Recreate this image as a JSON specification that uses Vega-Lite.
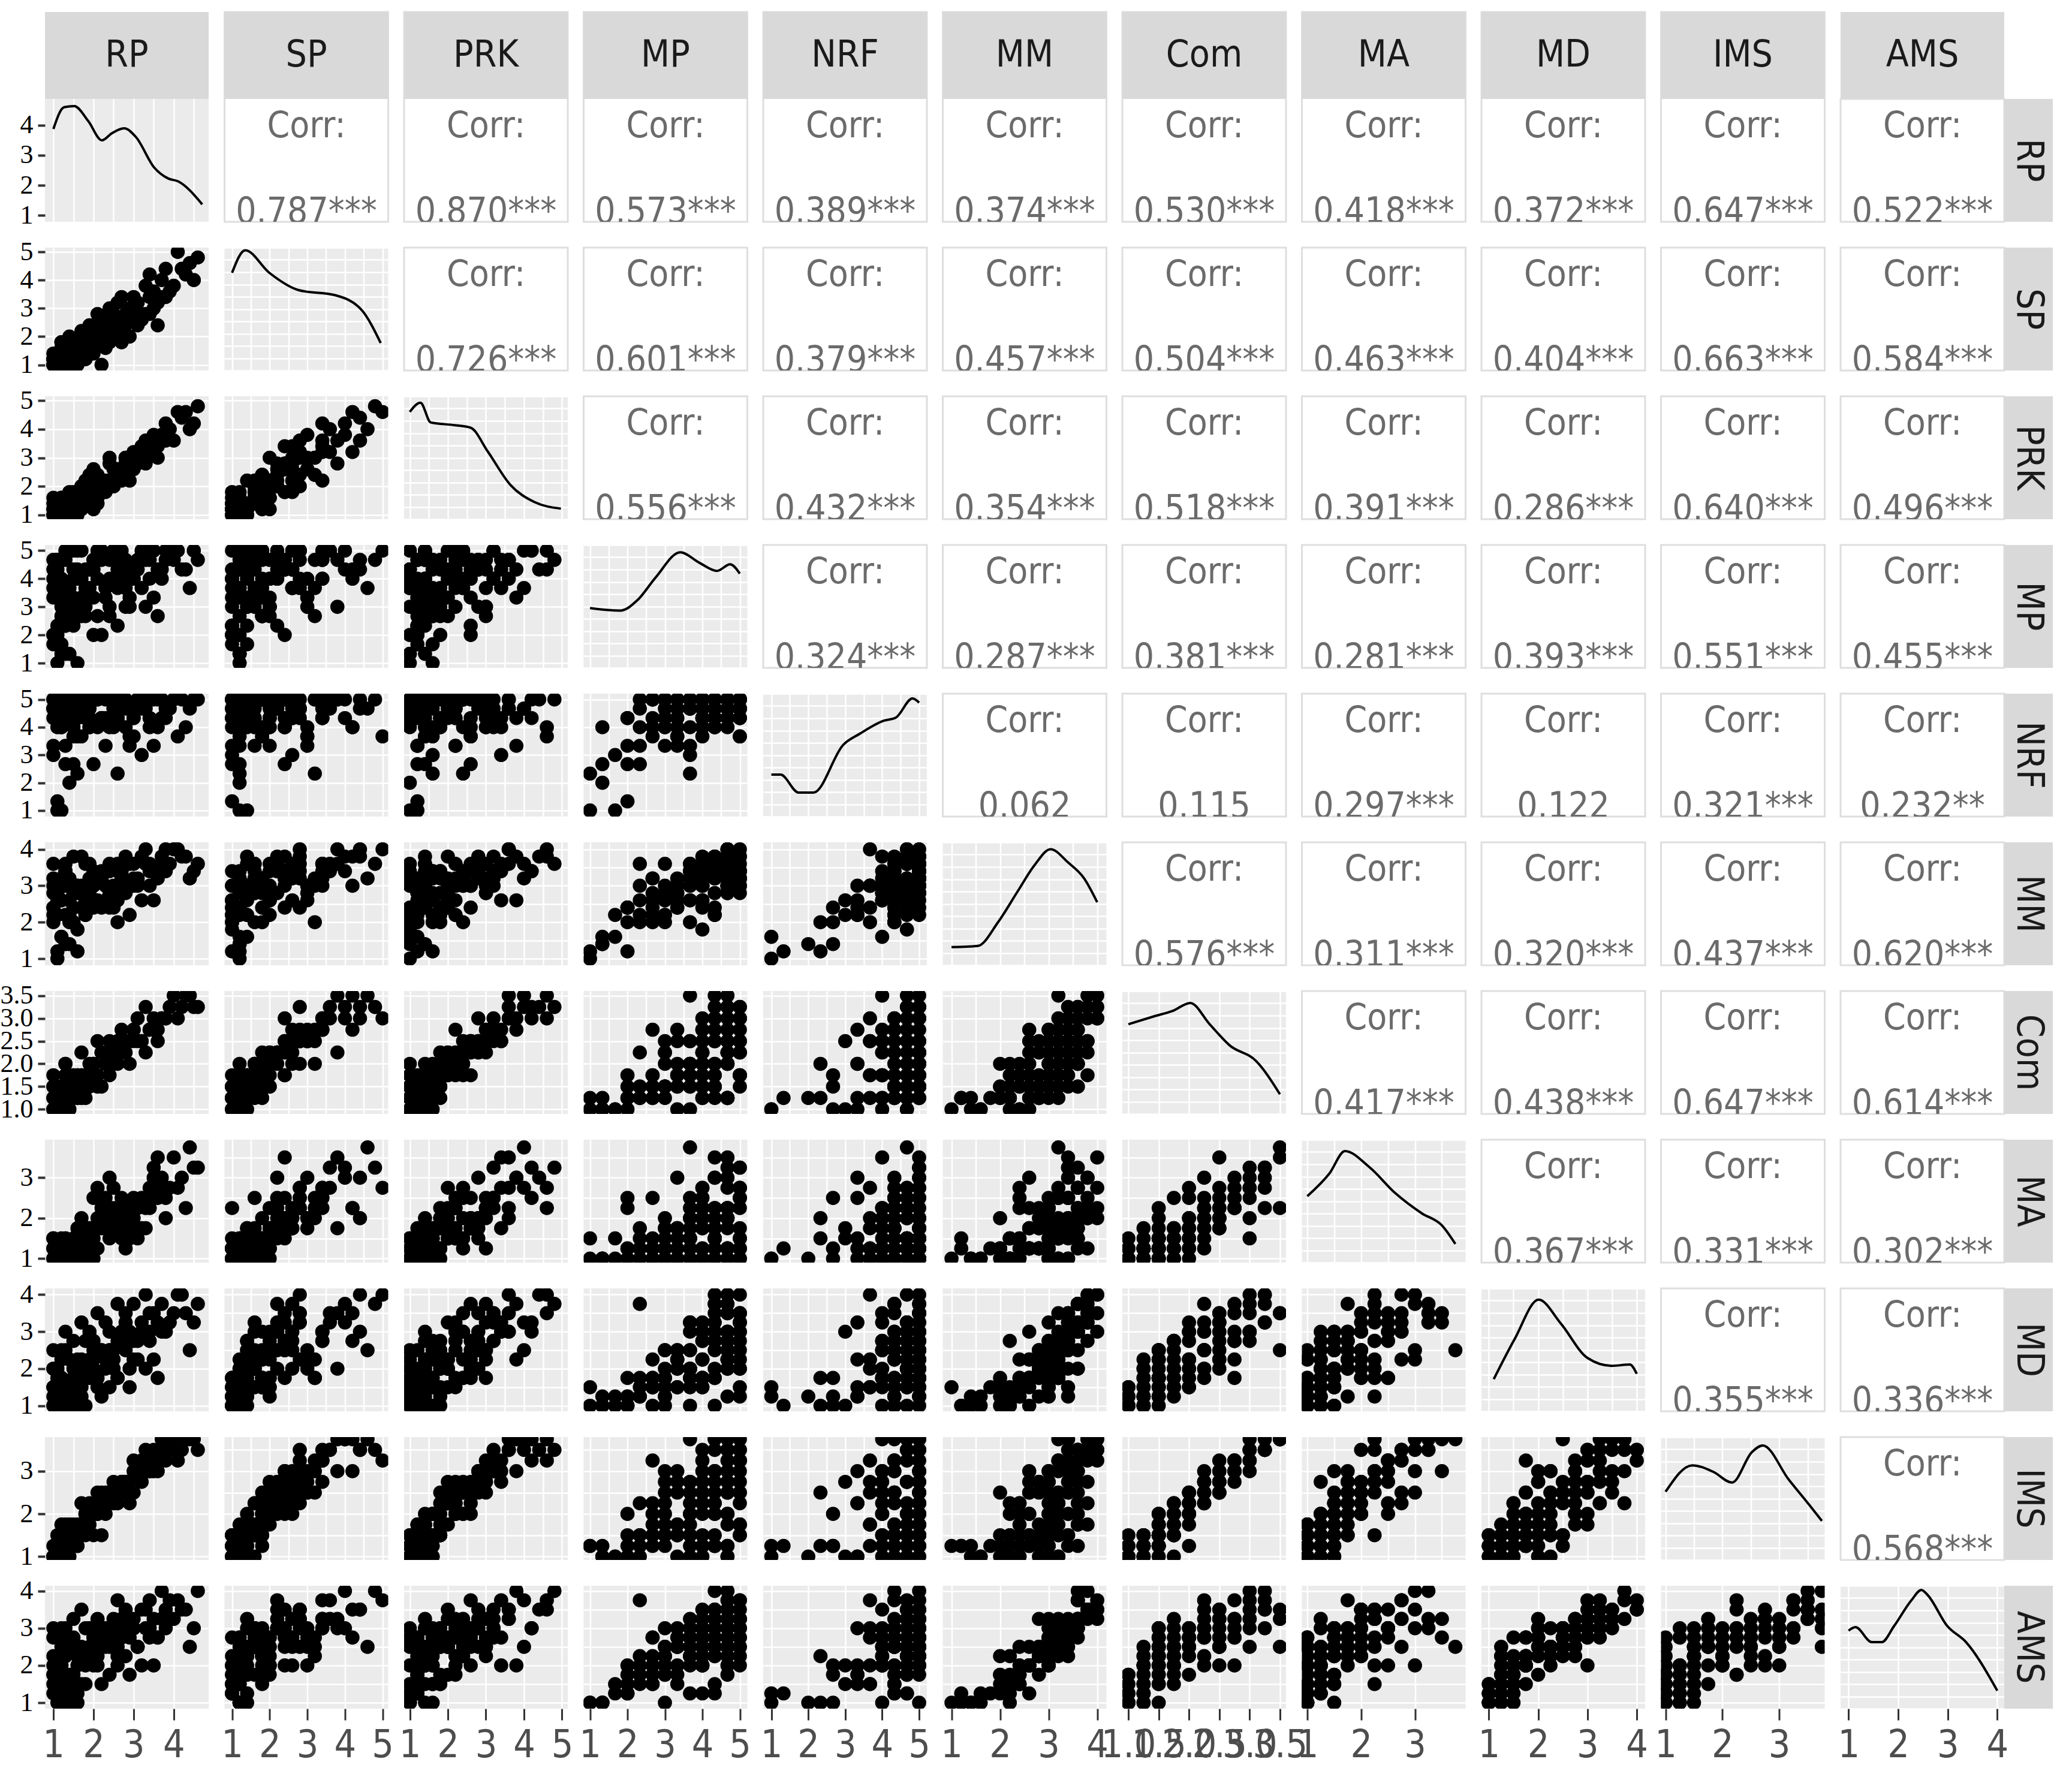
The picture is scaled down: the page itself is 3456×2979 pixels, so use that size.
{
"$schema":"https://vega.github.io/schema/vega-lite/v6.json",
"background":"white",
"padding":{"left":0,"top":18,"right":5,"bottom":5},
"config":{
"view":{"fill":"#EBEBEB","stroke":null},
"axis":{"domain":false,"labels":false,"ticks":false,"grid":true,"gridColor":"#FFFFFF","gridWidth":2.5,"gridOpacity":1,"labelOverlap":false,"labelFlush":false},
"axisLeft":{"labelFont":"Liberation Serif","labelFontSize":44,"labelColor":"#000000","tickColor":"#333333","tickWidth":4,"tickSize":12,"labelPadding":8},
"axisBottom":{"labelFont":"Liberation Sans Narrow, DejaVu Sans Condensed, sans-serif","labelFontSize":64,"labelColor":"#4D4D4D","tickColor":"#333333","tickWidth":3,"tickSize":19,"labelPadding":10},
"point":{"filled":true,"size":560,"color":"#000000","opacity":1},
"line":{"color":"#000000","strokeWidth":4,"interpolate":"monotone"},
"rect":{"color":"#D9D9D9"},
"text":{"color":"#6B6B6B"},
"style":{
"strip":{"font":"Liberation Sans Narrow, DejaVu Sans Condensed, sans-serif","fontSize":62},
"rstrip":{"font":"Liberation Sans Narrow, DejaVu Sans Condensed, sans-serif","fontSize":62,"angle":90},
"corrlab":{"font":"Liberation Sans Narrow, DejaVu Sans Condensed, sans-serif","fontSize":60,"baseline":"middle"},
"corrnum":{"font":"Liberation Sans Narrow, DejaVu Sans Condensed, sans-serif","fontSize":60,"baseline":"alphabetic"}
}
},
"datasets":{
"obs":[
{"RP":1.0,"SP":1.0,"PRK":1.0,"MP":2.0,"NRF":4.33,"MM":2.0,"Com":1.25,"MA":1.0,"MD":1.0,"IMS":1.0,"AMS":1.25},
{"RP":1.1,"SP":1.2,"PRK":1.0,"MP":1.0,"NRF":1.0,"MM":1.0,"Com":1.0,"MA":1.0,"MD":1.5,"IMS":1.25,"AMS":1.0},
{"RP":1.2,"SP":1.0,"PRK":1.4,"MP":3.0,"NRF":5.0,"MM":2.6,"Com":1.5,"MA":1.25,"MD":1.75,"IMS":1.25,"AMS":2.0},
{"RP":1.3,"SP":1.4,"PRK":1.2,"MP":2.33,"NRF":4.67,"MM":3.0,"Com":1.5,"MA":1.5,"MD":1.5,"IMS":1.5,"AMS":2.25},
{"RP":1.4,"SP":1.2,"PRK":1.0,"MP":1.33,"NRF":2.0,"MM":1.4,"Com":1.25,"MA":1.0,"MD":1.25,"IMS":1.0,"AMS":1.0},
{"RP":1.5,"SP":1.6,"PRK":1.8,"MP":3.33,"NRF":4.0,"MM":2.8,"Com":1.75,"MA":1.25,"MD":2.0,"IMS":1.5,"AMS":2.5},
{"RP":1.2,"SP":1.8,"PRK":1.2,"MP":2.67,"NRF":5.0,"MM":3.2,"Com":1.5,"MA":1.0,"MD":1.75,"IMS":1.75,"AMS":2.75},
{"RP":1.0,"SP":1.0,"PRK":1.6,"MP":1.67,"NRF":3.0,"MM":2.2,"Com":1.0,"MA":1.5,"MD":1.0,"IMS":1.0,"AMS":1.5},
{"RP":1.6,"SP":1.4,"PRK":1.4,"MP":4.0,"NRF":4.33,"MM":3.0,"Com":1.75,"MA":1.75,"MD":2.25,"IMS":1.5,"AMS":2.5},
{"RP":1.3,"SP":1.2,"PRK":1.0,"MP":3.67,"NRF":5.0,"MM":3.4,"Com":2.0,"MA":1.0,"MD":1.5,"IMS":1.25,"AMS":2.75},
{"RP":1.8,"SP":2.0,"PRK":1.6,"MP":3.0,"NRF":4.67,"MM":2.6,"Com":1.5,"MA":1.25,"MD":1.75,"IMS":2.0,"AMS":2.0},
{"RP":1.1,"SP":1.0,"PRK":1.2,"MP":2.0,"NRF":1.33,"MM":1.2,"Com":1.25,"MA":1.25,"MD":1.0,"IMS":1.25,"AMS":1.25},
{"RP":2.0,"SP":1.6,"PRK":2.0,"MP":4.33,"NRF":5.0,"MM":3.2,"Com":2.0,"MA":1.5,"MD":2.0,"IMS":2.25,"AMS":2.75},
{"RP":1.7,"SP":1.2,"PRK":1.4,"MP":3.33,"NRF":3.67,"MM":2.4,"Com":1.75,"MA":1.0,"MD":1.5,"IMS":1.75,"AMS":1.5},
{"RP":2.2,"SP":2.4,"PRK":1.8,"MP":4.67,"NRF":4.33,"MM":3.4,"Com":2.25,"MA":2.0,"MD":2.5,"IMS":2.5,"AMS":3.0},
{"RP":1.5,"SP":1.0,"PRK":1.2,"MP":2.33,"NRF":2.67,"MM":2.0,"Com":1.5,"MA":1.25,"MD":1.25,"IMS":1.25,"AMS":1.75},
{"RP":2.4,"SP":2.0,"PRK":2.2,"MP":4.0,"NRF":5.0,"MM":3.6,"Com":2.0,"MA":1.75,"MD":3.0,"IMS":2.5,"AMS":2.75},
{"RP":1.9,"SP":1.8,"PRK":2.4,"MP":3.67,"NRF":4.0,"MM":3.0,"Com":1.75,"MA":1.5,"MD":1.75,"IMS":2.0,"AMS":2.25},
{"RP":2.5,"SP":2.2,"PRK":2.0,"MP":5.0,"NRF":4.67,"MM":2.8,"Com":2.25,"MA":2.25,"MD":2.0,"IMS":2.75,"AMS":3.25},
{"RP":1.4,"SP":1.4,"PRK":1.0,"MP":3.0,"NRF":5.0,"MM":2.2,"Com":1.5,"MA":1.0,"MD":1.0,"IMS":1.5,"AMS":1.0},
{"RP":2.6,"SP":2.6,"PRK":2.6,"MP":4.33,"NRF":4.33,"MM":3.4,"Com":2.5,"MA":1.75,"MD":2.75,"IMS":2.5,"AMS":2.5},
{"RP":2.3,"SP":1.6,"PRK":2.2,"MP":3.67,"NRF":3.33,"MM":3.0,"Com":2.0,"MA":2.5,"MD":3.25,"IMS":2.25,"AMS":3.0},
{"RP":2.8,"SP":2.4,"PRK":2.8,"MP":4.67,"NRF":5.0,"MM":3.8,"Com":2.5,"MA":2.0,"MD":3.5,"IMS":2.75,"AMS":3.5},
{"RP":2.1,"SP":2.0,"PRK":1.6,"MP":2.67,"NRF":4.0,"MM":2.6,"Com":1.75,"MA":1.25,"MD":1.5,"IMS":2.0,"AMS":2.0},
{"RP":2.7,"SP":1.8,"PRK":2.4,"MP":5.0,"NRF":5.0,"MM":3.2,"Com":2.25,"MA":1.5,"MD":3.0,"IMS":2.5,"AMS":2.75},
{"RP":2.5,"SP":2.8,"PRK":2.0,"MP":4.0,"NRF":4.67,"MM":2.4,"Com":2.0,"MA":2.75,"MD":2.25,"IMS":2.25,"AMS":2.5},
{"RP":3.0,"SP":2.6,"PRK":3.0,"MP":4.33,"NRF":4.33,"MM":3.6,"Com":2.75,"MA":2.25,"MD":3.75,"IMS":3.0,"AMS":3.25},
{"RP":2.9,"SP":3.0,"PRK":2.6,"MP":3.33,"NRF":3.67,"MM":3.0,"Com":2.5,"MA":1.75,"MD":2.0,"IMS":2.75,"AMS":2.75},
{"RP":2.4,"SP":2.2,"PRK":2.8,"MP":4.67,"NRF":5.0,"MM":3.4,"Com":2.25,"MA":3.0,"MD":2.5,"IMS":2.5,"AMS":3.0},
{"RP":3.2,"SP":2.8,"PRK":3.2,"MP":5.0,"NRF":4.67,"MM":3.8,"Com":2.5,"MA":2.5,"MD":3.25,"IMS":3.25,"AMS":3.5},
{"RP":2.6,"SP":3.2,"PRK":2.4,"MP":3.67,"NRF":2.33,"MM":2.0,"Com":2.0,"MA":2.0,"MD":1.75,"IMS":2.5,"AMS":2.25},
{"RP":3.1,"SP":2.4,"PRK":2.8,"MP":4.33,"NRF":5.0,"MM":3.2,"Com":3.0,"MA":1.5,"MD":2.75,"IMS":3.0,"AMS":2.5},
{"RP":3.4,"SP":3.4,"PRK":3.4,"MP":4.67,"NRF":4.33,"MM":3.6,"Com":2.75,"MA":2.75,"MD":3.0,"IMS":3.25,"AMS":3.75},
{"RP":2.8,"SP":2.0,"PRK":3.0,"MP":3.0,"NRF":4.0,"MM":2.8,"Com":2.25,"MA":1.25,"MD":2.5,"IMS":2.75,"AMS":2.25},
{"RP":3.5,"SP":3.6,"PRK":3.2,"MP":5.0,"NRF":5.0,"MM":3.4,"Com":3.0,"MA":3.25,"MD":3.5,"IMS":3.5,"AMS":3.25},
{"RP":3.0,"SP":3.0,"PRK":2.6,"MP":4.0,"NRF":3.67,"MM":3.0,"Com":2.5,"MA":2.0,"MD":2.25,"IMS":2.5,"AMS":3.0},
{"RP":3.3,"SP":2.8,"PRK":3.6,"MP":4.67,"NRF":4.67,"MM":4.0,"Com":3.25,"MA":2.25,"MD":4.0,"IMS":3.5,"AMS":3.5},
{"RP":3.6,"SP":3.2,"PRK":3.0,"MP":2.67,"NRF":5.0,"MM":3.2,"Com":2.75,"MA":2.5,"MD":1.75,"IMS":3.25,"AMS":2.75},
{"RP":3.7,"SP":4.0,"PRK":3.8,"MP":4.33,"NRF":4.33,"MM":3.8,"Com":3.0,"MA":3.0,"MD":3.75,"IMS":3.75,"AMS":4.0},
{"RP":3.2,"SP":2.6,"PRK":3.4,"MP":3.67,"NRF":3.0,"MM":2.6,"Com":2.5,"MA":1.75,"MD":3.0,"IMS":2.75,"AMS":2.0},
{"RP":3.9,"SP":3.6,"PRK":4.0,"MP":5.0,"NRF":4.67,"MM":3.6,"Com":3.25,"MA":2.75,"MD":3.25,"IMS":3.5,"AMS":3.75},
{"RP":4.0,"SP":3.8,"PRK":3.6,"MP":4.67,"NRF":5.0,"MM":4.0,"Com":3.5,"MA":3.5,"MD":3.5,"IMS":3.75,"AMS":3.25},
{"RP":3.4,"SP":4.2,"PRK":3.2,"MP":4.0,"NRF":4.0,"MM":3.0,"Com":2.75,"MA":2.25,"MD":2.75,"IMS":3.0,"AMS":2.75},
{"RP":4.2,"SP":4.4,"PRK":4.4,"MP":4.33,"NRF":5.0,"MM":3.8,"Com":3.25,"MA":3.0,"MD":4.0,"IMS":3.5,"AMS":3.5},
{"RP":3.8,"SP":3.4,"PRK":4.2,"MP":5.0,"NRF":4.33,"MM":3.4,"Com":3.0,"MA":2.5,"MD":3.0,"IMS":3.25,"AMS":3.0},
{"RP":4.4,"SP":4.6,"PRK":4.0,"MP":3.67,"NRF":4.67,"MM":3.2,"Com":3.5,"MA":3.75,"MD":2.5,"IMS":3.75,"AMS":2.5},
{"RP":4.6,"SP":4.8,"PRK":4.8,"MP":4.67,"NRF":5.0,"MM":3.6,"Com":3.25,"MA":3.25,"MD":3.75,"IMS":3.5,"AMS":4.0},
{"RP":4.1,"SP":5.0,"PRK":4.6,"MP":5.0,"NRF":3.67,"MM":4.0,"Com":3.0,"MA":2.75,"MD":4.0,"IMS":3.25,"AMS":3.75},
{"RP":1.6,"SP":1.2,"PRK":1.6,"MP":1.0,"NRF":2.33,"MM":1.2,"Com":1.25,"MA":1.5,"MD":1.0,"IMS":1.25,"AMS":1.0},
{"RP":2.0,"SP":1.4,"PRK":1.2,"MP":3.33,"NRF":5.0,"MM":3.0,"Com":1.75,"MA":1.0,"MD":2.5,"IMS":1.5,"AMS":2.5},
{"RP":1.3,"SP":1.6,"PRK":1.4,"MP":4.67,"NRF":5.0,"MM":3.6,"Com":2.0,"MA":1.25,"MD":3.0,"IMS":1.75,"AMS":3.0},
{"RP":2.2,"SP":1.0,"PRK":1.8,"MP":2.0,"NRF":4.33,"MM":2.4,"Com":1.5,"MA":2.25,"MD":1.25,"IMS":1.5,"AMS":1.5},
{"RP":1.0,"SP":1.2,"PRK":1.0,"MP":3.67,"NRF":4.67,"MM":3.2,"Com":1.75,"MA":1.5,"MD":2.0,"IMS":1.0,"AMS":2.75},
{"RP":2.9,"SP":2.0,"PRK":2.2,"MP":3.0,"NRF":3.33,"MM":2.2,"Com":2.0,"MA":1.5,"MD":1.5,"IMS":2.25,"AMS":1.75},
{"RP":1.7,"SP":2.2,"PRK":2.0,"MP":4.0,"NRF":5.0,"MM":3.8,"Com":2.25,"MA":2.0,"MD":3.25,"IMS":2.25,"AMS":3.5},
{"RP":3.6,"SP":2.4,"PRK":3.4,"MP":4.33,"NRF":4.0,"MM":3.4,"Com":2.5,"MA":3.5,"MD":3.25,"IMS":3.0,"AMS":2.75},
{"RP":1.2,"SP":1.4,"PRK":1.2,"MP":1.67,"NRF":1.0,"MM":1.6,"Com":1.0,"MA":1.0,"MD":1.25,"IMS":1.0,"AMS":1.25},
{"RP":2.7,"SP":3.4,"PRK":2.2,"MP":4.67,"NRF":4.67,"MM":3.0,"Com":2.75,"MA":2.25,"MD":2.75,"IMS":2.75,"AMS":3.25},
{"RP":1.9,"SP":1.6,"PRK":1.8,"MP":3.33,"NRF":4.33,"MM":2.8,"Com":1.5,"MA":1.75,"MD":2.25,"IMS":1.75,"AMS":2.5},
{"RP":3.3,"SP":3.8,"PRK":2.8,"MP":3.0,"NRF":5.0,"MM":3.6,"Com":2.25,"MA":1.75,"MD":2.0,"IMS":3.0,"AMS":3.0},
{"RP":1.5,"SP":1.8,"PRK":1.6,"MP":2.67,"NRF":3.67,"MM":2.0,"Com":1.25,"MA":1.25,"MD":1.5,"IMS":1.25,"AMS":1.5},
{"RP":2.1,"SP":2.8,"PRK":2.4,"MP":5.0,"NRF":5.0,"MM":3.2,"Com":2.5,"MA":2.75,"MD":3.5,"IMS":2.5,"AMS":3.25},
{"RP":4.3,"SP":4.2,"PRK":4.6,"MP":4.33,"NRF":4.0,"MM":3.8,"Com":3.5,"MA":2.25,"MD":3.5,"IMS":3.75,"AMS":3.5},
{"RP":1.1,"SP":1.0,"PRK":1.4,"MP":2.33,"NRF":4.0,"MM":2.6,"Com":1.25,"MA":1.25,"MD":1.75,"IMS":1.5,"AMS":2.0},
{"RP":2.3,"SP":2.6,"PRK":1.8,"MP":3.67,"NRF":5.0,"MM":3.4,"Com":2.0,"MA":2.0,"MD":2.0,"IMS":2.0,"AMS":2.75},
{"RP":1.8,"SP":1.4,"PRK":2.2,"MP":4.33,"NRF":4.67,"MM":2.2,"Com":1.75,"MA":1.5,"MD":2.75,"IMS":2.0,"AMS":2.25},
{"RP":3.5,"SP":3.0,"PRK":3.8,"MP":3.33,"NRF":3.33,"MM":2.6,"Com":2.75,"MA":3.0,"MD":2.25,"IMS":3.0,"AMS":2.0},
{"RP":1.4,"SP":2.0,"PRK":1.2,"MP":3.0,"NRF":4.33,"MM":3.0,"Com":1.5,"MA":1.0,"MD":1.25,"IMS":1.75,"AMS":2.5},
{"RP":2.6,"SP":2.2,"PRK":2.6,"MP":2.33,"NRF":5.0,"MM":3.6,"Com":2.25,"MA":1.75,"MD":3.75,"IMS":2.25,"AMS":3.75},
{"RP":1.6,"SP":1.0,"PRK":1.0,"MP":4.0,"NRF":4.67,"MM":1.8,"Com":1.25,"MA":1.25,"MD":1.5,"IMS":1.25,"AMS":1.25},
{"RP":3.8,"SP":4.4,"PRK":3.6,"MP":4.67,"NRF":4.67,"MM":4.0,"Com":3.0,"MA":2.0,"MD":3.0,"IMS":3.5,"AMS":3.5},
{"RP":2.0,"SP":2.4,"PRK":2.6,"MP":2.0,"NRF":2.67,"MM":2.4,"Com":1.75,"MA":2.5,"MD":1.75,"IMS":2.0,"AMS":2.0},
{"RP":1.2,"SP":1.8,"PRK":1.6,"MP":3.33,"NRF":5.0,"MM":3.2,"Com":1.5,"MA":1.5,"MD":2.5,"IMS":1.5,"AMS":3.0},
{"RP":4.5,"SP":4.0,"PRK":4.2,"MP":5.0,"NRF":5.0,"MM":3.4,"Com":3.25,"MA":3.25,"MD":3.25,"IMS":3.75,"AMS":3.0},
{"RP":2.4,"SP":3.0,"PRK":3.0,"MP":3.0,"NRF":4.0,"MM":2.8,"Com":2.5,"MA":2.0,"MD":2.5,"IMS":2.5,"AMS":2.5},
{"RP":1.3,"SP":1.2,"PRK":1.4,"MP":1.33,"NRF":2.67,"MM":1.4,"Com":1.0,"MA":1.0,"MD":1.0,"IMS":1.25,"AMS":1.0},
{"RP":3.0,"SP":3.4,"PRK":3.2,"MP":4.0,"NRF":4.33,"MM":3.2,"Com":2.75,"MA":2.5,"MD":2.75,"IMS":3.25,"AMS":3.0},
{"RP":1.7,"SP":1.8,"PRK":1.4,"MP":2.67,"NRF":5.0,"MM":2.8,"Com":1.5,"MA":1.25,"MD":2.25,"IMS":1.5,"AMS":2.25},
{"RP":2.8,"SP":2.8,"PRK":3.0,"MP":3.67,"NRF":4.67,"MM":3.6,"Com":2.5,"MA":2.25,"MD":3.25,"IMS":2.75,"AMS":3.25},
{"RP":1.0,"SP":1.2,"PRK":1.2,"MP":2.0,"NRF":3.33,"MM":2.4,"Com":1.0,"MA":1.25,"MD":1.25,"IMS":1.0,"AMS":1.75},
{"RP":1.0,"SP":1.0,"PRK":1.0,"MP":4.0,"NRF":5.0,"MM":3.0,"Com":1.5,"MA":1.0,"MD":1.5,"IMS":1.0,"AMS":2.0},
{"RP":1.1,"SP":1.4,"PRK":1.2,"MP":4.67,"NRF":4.67,"MM":2.8,"Com":1.25,"MA":1.25,"MD":2.0,"IMS":1.25,"AMS":1.75},
{"RP":1.3,"SP":1.0,"PRK":1.4,"MP":5.0,"NRF":5.0,"MM":3.4,"Com":1.75,"MA":1.0,"MD":1.25,"IMS":1.5,"AMS":2.25},
{"RP":1.5,"SP":1.2,"PRK":1.0,"MP":4.33,"NRF":4.33,"MM":2.4,"Com":1.5,"MA":1.5,"MD":1.75,"IMS":1.25,"AMS":1.5},
{"RP":1.2,"SP":1.6,"PRK":1.6,"MP":4.67,"NRF":5.0,"MM":3.2,"Com":1.25,"MA":1.0,"MD":2.25,"IMS":1.0,"AMS":2.5},
{"RP":1.4,"SP":1.0,"PRK":1.2,"MP":3.67,"NRF":4.67,"MM":2.6,"Com":1.0,"MA":1.25,"MD":1.0,"IMS":1.5,"AMS":1.25},
{"RP":1.6,"SP":1.8,"PRK":1.4,"MP":5.0,"NRF":3.67,"MM":3.0,"Com":1.75,"MA":1.25,"MD":1.5,"IMS":1.75,"AMS":2.0},
{"RP":1.0,"SP":1.4,"PRK":1.0,"MP":4.33,"NRF":5.0,"MM":3.6,"Com":1.5,"MA":1.5,"MD":2.5,"IMS":1.25,"AMS":3.0},
{"RP":1.8,"SP":1.2,"PRK":1.8,"MP":2.67,"NRF":4.33,"MM":2.2,"Com":1.25,"MA":1.0,"MD":1.0,"IMS":1.5,"AMS":1.5},
{"RP":2.0,"SP":2.0,"PRK":1.6,"MP":4.67,"NRF":5.0,"MM":3.4,"Com":2.0,"MA":1.75,"MD":2.75,"IMS":2.0,"AMS":2.75},
{"RP":1.2,"SP":1.2,"PRK":1.0,"MP":1.33,"NRF":4.0,"MM":1.6,"Com":1.0,"MA":1.0,"MD":1.0,"IMS":1.0,"AMS":1.0},
{"RP":1.7,"SP":1.6,"PRK":2.0,"MP":5.0,"NRF":4.67,"MM":3.0,"Com":1.75,"MA":1.5,"MD":2.0,"IMS":1.75,"AMS":2.5},
{"RP":2.1,"SP":1.8,"PRK":1.4,"MP":4.0,"NRF":5.0,"MM":3.2,"Com":1.5,"MA":2.0,"MD":1.75,"IMS":2.0,"AMS":2.25},
{"RP":1.4,"SP":1.6,"PRK":1.8,"MP":3.0,"NRF":4.33,"MM":2.0,"Com":1.5,"MA":1.25,"MD":1.5,"IMS":1.5,"AMS":1.75},
{"RP":1.9,"SP":2.2,"PRK":2.2,"MP":4.33,"NRF":4.67,"MM":3.6,"Com":2.0,"MA":1.5,"MD":3.0,"IMS":2.0,"AMS":3.0},
{"RP":1.1,"SP":1.2,"PRK":1.2,"MP":4.67,"NRF":5.0,"MM":3.0,"Com":1.25,"MA":1.0,"MD":1.25,"IMS":1.25,"AMS":2.0},
{"RP":2.3,"SP":2.0,"PRK":2.0,"MP":3.33,"NRF":4.33,"MM":2.6,"Com":2.0,"MA":1.75,"MD":2.25,"IMS":2.5,"AMS":2.5},
{"RP":1.5,"SP":1.4,"PRK":1.4,"MP":5.0,"NRF":5.0,"MM":3.8,"Com":1.75,"MA":1.25,"MD":2.75,"IMS":1.75,"AMS":3.25},
{"RP":2.5,"SP":2.4,"PRK":2.6,"MP":4.67,"NRF":4.0,"MM":3.0,"Com":2.25,"MA":2.0,"MD":2.5,"IMS":2.5,"AMS":2.75},
{"RP":1.3,"SP":1.0,"PRK":1.2,"MP":2.33,"NRF":3.33,"MM":2.2,"Com":1.25,"MA":1.0,"MD":1.25,"IMS":1.0,"AMS":1.5},
{"RP":2.7,"SP":2.2,"PRK":2.4,"MP":4.0,"NRF":5.0,"MM":3.4,"Com":2.25,"MA":2.5,"MD":3.0,"IMS":2.75,"AMS":3.0},
{"RP":1.6,"SP":1.2,"PRK":1.6,"MP":4.33,"NRF":5.0,"MM":2.8,"Com":1.5,"MA":1.25,"MD":1.75,"IMS":1.5,"AMS":2.25},
{"RP":1.0,"SP":1.0,"PRK":1.2,"MP":3.33,"NRF":4.67,"MM":2.4,"Com":1.0,"MA":1.0,"MD":1.5,"IMS":1.0,"AMS":1.75},
{"RP":2.2,"SP":2.6,"PRK":2.2,"MP":5.0,"NRF":4.33,"MM":3.2,"Com":2.25,"MA":1.75,"MD":2.5,"IMS":2.25,"AMS":2.75},
{"RP":1.8,"SP":1.6,"PRK":1.4,"MP":3.67,"NRF":5.0,"MM":3.6,"Com":1.5,"MA":1.5,"MD":2.0,"IMS":1.75,"AMS":3.0},
{"RP":3.1,"SP":3.2,"PRK":3.0,"MP":4.67,"NRF":5.0,"MM":3.0,"Com":2.5,"MA":2.25,"MD":2.25,"IMS":3.0,"AMS":2.5},
{"RP":1.2,"SP":1.4,"PRK":1.4,"MP":4.0,"NRF":4.0,"MM":2.6,"Com":1.25,"MA":1.25,"MD":1.75,"IMS":1.25,"AMS":2.0},
{"RP":2.4,"SP":1.8,"PRK":2.0,"MP":2.67,"NRF":5.0,"MM":2.4,"Com":1.75,"MA":1.5,"MD":1.5,"IMS":2.25,"AMS":1.75},
{"RP":1.4,"SP":1.2,"PRK":1.0,"MP":5.0,"NRF":4.67,"MM":3.2,"Com":1.5,"MA":1.0,"MD":2.25,"IMS":1.5,"AMS":2.5},
{"RP":2.9,"SP":2.6,"PRK":2.8,"MP":4.33,"NRF":4.67,"MM":3.6,"Com":2.5,"MA":2.0,"MD":3.0,"IMS":2.75,"AMS":3.25},
{"RP":1.7,"SP":1.4,"PRK":1.2,"MP":3.0,"NRF":5.0,"MM":2.8,"Com":1.25,"MA":1.75,"MD":1.25,"IMS":1.5,"AMS":2.25},
{"RP":1.1,"SP":1.0,"PRK":1.0,"MP":4.33,"NRF":4.33,"MM":2.2,"Com":1.25,"MA":1.0,"MD":1.0,"IMS":1.25,"AMS":1.25},
{"RP":3.4,"SP":2.8,"PRK":3.2,"MP":5.0,"NRF":4.33,"MM":3.4,"Com":2.75,"MA":2.5,"MD":3.5,"IMS":3.0,"AMS":3.0},
{"RP":2.0,"SP":1.8,"PRK":2.4,"MP":4.67,"NRF":5.0,"MM":3.0,"Com":2.0,"MA":1.25,"MD":2.25,"IMS":2.0,"AMS":2.5},
{"RP":1.3,"SP":1.6,"PRK":1.6,"MP":3.67,"NRF":5.0,"MM":3.4,"Com":1.5,"MA":1.5,"MD":2.5,"IMS":1.5,"AMS":2.75},
{"RP":2.6,"SP":2.0,"PRK":2.2,"MP":4.0,"NRF":4.33,"MM":2.6,"Com":2.25,"MA":2.25,"MD":1.75,"IMS":2.5,"AMS":2.0},
{"RP":1.9,"SP":2.4,"PRK":1.8,"MP":4.33,"NRF":4.0,"MM":3.2,"Com":1.75,"MA":1.75,"MD":2.75,"IMS":2.25,"AMS":3.0},
{"RP":1.0,"SP":1.2,"PRK":1.4,"MP":4.67,"NRF":4.67,"MM":2.8,"Com":1.25,"MA":1.25,"MD":2.0,"IMS":1.0,"AMS":2.25},
{"RP":3.7,"SP":3.4,"PRK":3.6,"MP":4.0,"NRF":5.0,"MM":3.6,"Com":3.0,"MA":2.75,"MD":3.0,"IMS":3.5,"AMS":3.25},
{"RP":1.5,"SP":1.0,"PRK":1.2,"MP":4.0,"NRF":5.0,"MM":3.0,"Com":1.5,"MA":1.0,"MD":1.75,"IMS":1.25,"AMS":2.75}
],
"dens":[
{"v":"RP","x":1.0,"d":0.755},{"v":"RP","x":1.27,"d":0.933},{"v":"RP","x":1.52,"d":0.941},{"v":"RP","x":1.87,"d":0.819},{"v":"RP","x":2.21,"d":0.663},{"v":"RP","x":2.46,"d":0.721},{"v":"RP","x":2.76,"d":0.761},{"v":"RP","x":3.06,"d":0.689},{"v":"RP","x":3.51,"d":0.443},{"v":"RP","x":3.86,"d":0.353},{"v":"RP","x":4.11,"d":0.329},{"v":"RP","x":4.71,"d":0.142},
{"v":"SP","x":1.0,"d":0.795},{"v":"SP","x":1.35,"d":0.978},{"v":"SP","x":1.99,"d":0.795},{"v":"SP","x":2.76,"d":0.655},{"v":"SP","x":3.75,"d":0.612},{"v":"SP","x":4.45,"d":0.49},{"v":"SP","x":4.95,"d":0.224},
{"v":"PRK","x":1.0,"d":0.873},{"v":"PRK","x":1.28,"d":0.948},{"v":"PRK","x":1.55,"d":0.787},{"v":"PRK","x":2.18,"d":0.765},{"v":"PRK","x":2.6,"d":0.744},{"v":"PRK","x":3.05,"d":0.55},{"v":"PRK","x":3.64,"d":0.28},{"v":"PRK","x":4.27,"d":0.14},{"v":"PRK","x":4.97,"d":0.086},
{"v":"MP","x":1.0,"d":0.487},{"v":"MP","x":1.81,"d":0.466},{"v":"MP","x":2.27,"d":0.552},{"v":"MP","x":2.75,"d":0.735},{"v":"MP","x":3.41,"d":0.94},{"v":"MP","x":3.93,"d":0.853},{"v":"MP","x":4.39,"d":0.789},{"v":"MP","x":4.74,"d":0.843},{"v":"MP","x":5.0,"d":0.767},
{"v":"NRF","x":1.0,"d":0.341},{"v":"NRF","x":1.25,"d":0.341},{"v":"NRF","x":1.74,"d":0.195},{"v":"NRF","x":2.14,"d":0.195},{"v":"NRF","x":2.95,"d":0.585},{"v":"NRF","x":3.39,"d":0.673},{"v":"NRF","x":4.04,"d":0.78},{"v":"NRF","x":4.37,"d":0.805},{"v":"NRF","x":4.82,"d":0.961},{"v":"NRF","x":5.0,"d":0.927},
{"v":"MM","x":1.0,"d":0.147},{"v":"MM","x":1.54,"d":0.157},{"v":"MM","x":1.96,"d":0.351},{"v":"MM","x":2.36,"d":0.6},{"v":"MM","x":2.71,"d":0.815},{"v":"MM","x":3.04,"d":0.944},{"v":"MM","x":3.4,"d":0.836},{"v":"MM","x":3.73,"d":0.707},{"v":"MM","x":4.0,"d":0.513},
{"v":"Com","x":1.0,"d":0.73},{"v":"Com","x":1.43,"d":0.795},{"v":"Com","x":1.73,"d":0.838},{"v":"Com","x":2.02,"d":0.903},{"v":"Com","x":2.34,"d":0.73},{"v":"Com","x":2.67,"d":0.558},{"v":"Com","x":3.11,"d":0.429},{"v":"Com","x":3.5,"d":0.16},
{"v":"MA","x":1.0,"d":0.54},{"v":"MA","x":1.41,"d":0.724},{"v":"MA","x":1.7,"d":0.907},{"v":"MA","x":2.15,"d":0.778},{"v":"MA","x":2.64,"d":0.563},{"v":"MA","x":3.13,"d":0.4},{"v":"MA","x":3.5,"d":0.303},{"v":"MA","x":3.75,"d":0.152},
{"v":"MD","x":1.1,"d":0.262},{"v":"MD","x":1.52,"d":0.585},{"v":"MD","x":2.01,"d":0.908},{"v":"MD","x":2.46,"d":0.714},{"v":"MD","x":3.0,"d":0.434},{"v":"MD","x":3.49,"d":0.37},{"v":"MD","x":3.86,"d":0.38},{"v":"MD","x":4.0,"d":0.305},
{"v":"IMS","x":1.0,"d":0.555},{"v":"IMS","x":1.47,"d":0.77},{"v":"IMS","x":1.84,"d":0.717},{"v":"IMS","x":2.17,"d":0.63},{"v":"IMS","x":2.52,"d":0.878},{"v":"IMS","x":2.71,"d":0.932},{"v":"IMS","x":3.17,"d":0.652},{"v":"IMS","x":3.53,"d":0.447},{"v":"IMS","x":3.75,"d":0.318},
{"v":"AMS","x":1.0,"d":0.634},{"v":"AMS","x":1.14,"d":0.663},{"v":"AMS","x":1.47,"d":0.541},{"v":"AMS","x":1.67,"d":0.541},{"v":"AMS","x":1.92,"d":0.673},{"v":"AMS","x":2.27,"d":0.883},{"v":"AMS","x":2.47,"d":0.966},{"v":"AMS","x":2.59,"d":0.927},{"v":"AMS","x":2.99,"d":0.673},{"v":"AMS","x":3.37,"d":0.541},{"v":"AMS","x":4.0,"d":0.146}
]
},
"columns":11,
"spacing":{"row":43,"column":26.5},
"bounds":"flush",
"align":"each",
"concat":[

{"width":273,"height":350,"layer":[
{"data":{"name":"dens"},"transform":[{"filter":"datum.v=='RP'"}],"mark":"line","encoding":{"x":{"field":"x","type":"quantitative","title":null,"scale":{"domain":[0.79,4.87],"nice":false}},"y":{"field":"d","type":"quantitative","title":null,"scale":{"domain":[0,1.7073],"nice":false},"axis":null}}},
{"data":{"name":"obs"},"mark":{"type":"point","opacity":0},"encoding":{"x":{"field":"RP","type":"quantitative","title":null,"scale":{"domain":[0.79,4.87],"nice":false}},"y":{"field":"RP","type":"quantitative","title":null,"scale":{"domain":[0.79,7.756],"nice":false},"axis":{"orient":"left","values":[1,1.5,2,2.5,3,3.5,4,4.5],"labels":true,"ticks":true,"format":"d","labelExpr":"datum.value % 1 ? '' : datum.label","tickOpacity":{"condition":{"test":"datum.value % 1","value":0},"value":1}}}}},
{"data":{"values":[{"v":"RP"}]},"mark":{"type":"rect"},"encoding":{"y":{"datum":1,"type":"quantitative","scale":{"domain":[0,1.7073]},"axis":null},"y2":{"datum":1.7073}}},
{"data":{"values":[{"v":"RP"}]},"mark":{"type":"text","style":"strip","color":"#1A1A1A"},"encoding":{"text":{"field":"v","type":"nominal"},"y":{"datum":1.3537,"type":"quantitative","scale":{"domain":[0,1.7073]},"axis":null}}}
],"resolve":{"scale":{"y":"independent"}}},
{"width":273,"height":350,"view":{"fill":"#FFFFFF","stroke":"#DEDEDE","strokeWidth":3},"data":{"values":[{"r":"0.787***","v":"SP"}]},"layer":[{"mark":{"type":"rect"},"encoding":{"y":{"datum":1,"type":"quantitative","scale":{"domain":[0,1.7073]},"axis":null},"y2":{"datum":1.7073}}},{"mark":{"type":"text","style":"strip","color":"#1A1A1A"},"encoding":{"text":{"field":"v","type":"nominal"},"y":{"datum":1.3537,"type":"quantitative","scale":{"domain":[0,1.7073]},"axis":null}}},{"mark":{"type":"text","style":"corrlab","text":"Corr:"},"encoding":{"y":{"datum":0.778,"type":"quantitative","scale":{"domain":[0,1.7073]},"axis":null}}},{"mark":{"type":"text","style":"corrnum","clip":true},"encoding":{"text":{"field":"r","type":"nominal"},"y":{"datum":-0.01,"type":"quantitative","scale":{"domain":[0,1.7073]},"axis":null}}}]},
{"width":273,"height":350,"view":{"fill":"#FFFFFF","stroke":"#DEDEDE","strokeWidth":3},"data":{"values":[{"r":"0.870***","v":"PRK"}]},"layer":[{"mark":{"type":"rect"},"encoding":{"y":{"datum":1,"type":"quantitative","scale":{"domain":[0,1.7073]},"axis":null},"y2":{"datum":1.7073}}},{"mark":{"type":"text","style":"strip","color":"#1A1A1A"},"encoding":{"text":{"field":"v","type":"nominal"},"y":{"datum":1.3537,"type":"quantitative","scale":{"domain":[0,1.7073]},"axis":null}}},{"mark":{"type":"text","style":"corrlab","text":"Corr:"},"encoding":{"y":{"datum":0.778,"type":"quantitative","scale":{"domain":[0,1.7073]},"axis":null}}},{"mark":{"type":"text","style":"corrnum","clip":true},"encoding":{"text":{"field":"r","type":"nominal"},"y":{"datum":-0.01,"type":"quantitative","scale":{"domain":[0,1.7073]},"axis":null}}}]},
{"width":273,"height":350,"view":{"fill":"#FFFFFF","stroke":"#DEDEDE","strokeWidth":3},"data":{"values":[{"r":"0.573***","v":"MP"}]},"layer":[{"mark":{"type":"rect"},"encoding":{"y":{"datum":1,"type":"quantitative","scale":{"domain":[0,1.7073]},"axis":null},"y2":{"datum":1.7073}}},{"mark":{"type":"text","style":"strip","color":"#1A1A1A"},"encoding":{"text":{"field":"v","type":"nominal"},"y":{"datum":1.3537,"type":"quantitative","scale":{"domain":[0,1.7073]},"axis":null}}},{"mark":{"type":"text","style":"corrlab","text":"Corr:"},"encoding":{"y":{"datum":0.778,"type":"quantitative","scale":{"domain":[0,1.7073]},"axis":null}}},{"mark":{"type":"text","style":"corrnum","clip":true},"encoding":{"text":{"field":"r","type":"nominal"},"y":{"datum":-0.01,"type":"quantitative","scale":{"domain":[0,1.7073]},"axis":null}}}]},
{"width":273,"height":350,"view":{"fill":"#FFFFFF","stroke":"#DEDEDE","strokeWidth":3},"data":{"values":[{"r":"0.389***","v":"NRF"}]},"layer":[{"mark":{"type":"rect"},"encoding":{"y":{"datum":1,"type":"quantitative","scale":{"domain":[0,1.7073]},"axis":null},"y2":{"datum":1.7073}}},{"mark":{"type":"text","style":"strip","color":"#1A1A1A"},"encoding":{"text":{"field":"v","type":"nominal"},"y":{"datum":1.3537,"type":"quantitative","scale":{"domain":[0,1.7073]},"axis":null}}},{"mark":{"type":"text","style":"corrlab","text":"Corr:"},"encoding":{"y":{"datum":0.778,"type":"quantitative","scale":{"domain":[0,1.7073]},"axis":null}}},{"mark":{"type":"text","style":"corrnum","clip":true},"encoding":{"text":{"field":"r","type":"nominal"},"y":{"datum":-0.01,"type":"quantitative","scale":{"domain":[0,1.7073]},"axis":null}}}]},
{"width":273,"height":350,"view":{"fill":"#FFFFFF","stroke":"#DEDEDE","strokeWidth":3},"data":{"values":[{"r":"0.374***","v":"MM"}]},"layer":[{"mark":{"type":"rect"},"encoding":{"y":{"datum":1,"type":"quantitative","scale":{"domain":[0,1.7073]},"axis":null},"y2":{"datum":1.7073}}},{"mark":{"type":"text","style":"strip","color":"#1A1A1A"},"encoding":{"text":{"field":"v","type":"nominal"},"y":{"datum":1.3537,"type":"quantitative","scale":{"domain":[0,1.7073]},"axis":null}}},{"mark":{"type":"text","style":"corrlab","text":"Corr:"},"encoding":{"y":{"datum":0.778,"type":"quantitative","scale":{"domain":[0,1.7073]},"axis":null}}},{"mark":{"type":"text","style":"corrnum","clip":true},"encoding":{"text":{"field":"r","type":"nominal"},"y":{"datum":-0.01,"type":"quantitative","scale":{"domain":[0,1.7073]},"axis":null}}}]},
{"width":273,"height":350,"view":{"fill":"#FFFFFF","stroke":"#DEDEDE","strokeWidth":3},"data":{"values":[{"r":"0.530***","v":"Com"}]},"layer":[{"mark":{"type":"rect"},"encoding":{"y":{"datum":1,"type":"quantitative","scale":{"domain":[0,1.7073]},"axis":null},"y2":{"datum":1.7073}}},{"mark":{"type":"text","style":"strip","color":"#1A1A1A"},"encoding":{"text":{"field":"v","type":"nominal"},"y":{"datum":1.3537,"type":"quantitative","scale":{"domain":[0,1.7073]},"axis":null}}},{"mark":{"type":"text","style":"corrlab","text":"Corr:"},"encoding":{"y":{"datum":0.778,"type":"quantitative","scale":{"domain":[0,1.7073]},"axis":null}}},{"mark":{"type":"text","style":"corrnum","clip":true},"encoding":{"text":{"field":"r","type":"nominal"},"y":{"datum":-0.01,"type":"quantitative","scale":{"domain":[0,1.7073]},"axis":null}}}]},
{"width":273,"height":350,"view":{"fill":"#FFFFFF","stroke":"#DEDEDE","strokeWidth":3},"data":{"values":[{"r":"0.418***","v":"MA"}]},"layer":[{"mark":{"type":"rect"},"encoding":{"y":{"datum":1,"type":"quantitative","scale":{"domain":[0,1.7073]},"axis":null},"y2":{"datum":1.7073}}},{"mark":{"type":"text","style":"strip","color":"#1A1A1A"},"encoding":{"text":{"field":"v","type":"nominal"},"y":{"datum":1.3537,"type":"quantitative","scale":{"domain":[0,1.7073]},"axis":null}}},{"mark":{"type":"text","style":"corrlab","text":"Corr:"},"encoding":{"y":{"datum":0.778,"type":"quantitative","scale":{"domain":[0,1.7073]},"axis":null}}},{"mark":{"type":"text","style":"corrnum","clip":true},"encoding":{"text":{"field":"r","type":"nominal"},"y":{"datum":-0.01,"type":"quantitative","scale":{"domain":[0,1.7073]},"axis":null}}}]},
{"width":273,"height":350,"view":{"fill":"#FFFFFF","stroke":"#DEDEDE","strokeWidth":3},"data":{"values":[{"r":"0.372***","v":"MD"}]},"layer":[{"mark":{"type":"rect"},"encoding":{"y":{"datum":1,"type":"quantitative","scale":{"domain":[0,1.7073]},"axis":null},"y2":{"datum":1.7073}}},{"mark":{"type":"text","style":"strip","color":"#1A1A1A"},"encoding":{"text":{"field":"v","type":"nominal"},"y":{"datum":1.3537,"type":"quantitative","scale":{"domain":[0,1.7073]},"axis":null}}},{"mark":{"type":"text","style":"corrlab","text":"Corr:"},"encoding":{"y":{"datum":0.778,"type":"quantitative","scale":{"domain":[0,1.7073]},"axis":null}}},{"mark":{"type":"text","style":"corrnum","clip":true},"encoding":{"text":{"field":"r","type":"nominal"},"y":{"datum":-0.01,"type":"quantitative","scale":{"domain":[0,1.7073]},"axis":null}}}]},
{"width":273,"height":350,"view":{"fill":"#FFFFFF","stroke":"#DEDEDE","strokeWidth":3},"data":{"values":[{"r":"0.647***","v":"IMS"}]},"layer":[{"mark":{"type":"rect"},"encoding":{"y":{"datum":1,"type":"quantitative","scale":{"domain":[0,1.7073]},"axis":null},"y2":{"datum":1.7073}}},{"mark":{"type":"text","style":"strip","color":"#1A1A1A"},"encoding":{"text":{"field":"v","type":"nominal"},"y":{"datum":1.3537,"type":"quantitative","scale":{"domain":[0,1.7073]},"axis":null}}},{"mark":{"type":"text","style":"corrlab","text":"Corr:"},"encoding":{"y":{"datum":0.778,"type":"quantitative","scale":{"domain":[0,1.7073]},"axis":null}}},{"mark":{"type":"text","style":"corrnum","clip":true},"encoding":{"text":{"field":"r","type":"nominal"},"y":{"datum":-0.01,"type":"quantitative","scale":{"domain":[0,1.7073]},"axis":null}}}]},
{"width":354,"height":350,"view":{"fill":"#FFFFFF","stroke":null},"data":{"values":[{"r":"0.522***","v":"AMS","h":"RP"}]},"layer":[
{"mark":{"type":"rect","color":"#FFFFFF","stroke":"#DEDEDE","strokeWidth":3},"encoding":{"x":{"datum":0,"type":"quantitative","scale":{"domain":[0,1.2967]},"axis":null},"x2":{"datum":1},"y":{"datum":0,"type":"quantitative","scale":{"domain":[0,1.7073]},"axis":null},"y2":{"datum":1}}},
{"mark":{"type":"rect"},"encoding":{"x":{"datum":0,"type":"quantitative","scale":{"domain":[0,1.2967]},"axis":null},"x2":{"datum":1},"y":{"datum":1,"type":"quantitative","scale":{"domain":[0,1.7073]},"axis":null},"y2":{"datum":1.7073}}},
{"mark":{"type":"text","style":"strip","color":"#1A1A1A"},"encoding":{"text":{"field":"v","type":"nominal"},"x":{"datum":0.5,"type":"quantitative","scale":{"domain":[0,1.2967]},"axis":null},"y":{"datum":1.3537,"type":"quantitative","scale":{"domain":[0,1.7073]},"axis":null}}},
{"mark":{"type":"rect"},"encoding":{"x":{"datum":1,"type":"quantitative","scale":{"domain":[0,1.2967]},"axis":null},"x2":{"datum":1.2967},"y":{"datum":0,"type":"quantitative","scale":{"domain":[0,1.7073]},"axis":null},"y2":{"datum":1}}},
{"mark":{"type":"text","style":"rstrip","color":"#1A1A1A"},"encoding":{"text":{"field":"h","type":"nominal"},"x":{"datum":1.1484,"type":"quantitative","scale":{"domain":[0,1.2967]},"axis":null},"y":{"datum":0.5,"type":"quantitative","scale":{"domain":[0,1.7073]},"axis":null}}},
{"mark":{"type":"text","style":"corrlab","text":"Corr:"},"encoding":{"x":{"datum":0.5,"type":"quantitative","scale":{"domain":[0,1.2967]},"axis":null},"y":{"datum":0.778,"type":"quantitative","scale":{"domain":[0,1.7073]},"axis":null}}},
{"mark":{"type":"text","style":"corrnum","clip":true},"encoding":{"text":{"field":"r","type":"nominal"},"x":{"datum":0.5,"type":"quantitative","scale":{"domain":[0,1.2967]},"axis":null},"y":{"datum":-0.01,"type":"quantitative","scale":{"domain":[0,1.7073]},"axis":null}}}
]},

{"width":273,"height":205,"data":{"name":"obs"},"mark":{"type":"point","clip":true},"encoding":{"x":{"field":"RP","type":"quantitative","title":null,"scale":{"domain":[0.79,4.87],"nice":false}},"y":{"field":"SP","type":"quantitative","title":null,"scale":{"domain":[0.8,5.15],"nice":false},"axis":{"labels":true,"ticks":true,"format":"d","labelExpr":"datum.value % 1 ? '' : datum.label","tickOpacity":{"condition":{"test":"datum.value % 1","value":0},"value":1}}}}},
{"width":273,"height":205,"data":{"name":"dens"},"transform":[{"filter":"datum.v=='SP'"}],"mark":"line","encoding":{"x":{"field":"x","type":"quantitative","title":null,"scale":{"domain":[0.8,5.15],"nice":false}},"y":{"field":"d","type":"quantitative","title":null,"scale":{"domain":[0,1],"nice":false},"axis":{"tickCount":10}}}},
{"width":273,"height":205,"view":{"fill":"#FFFFFF","stroke":"#DEDEDE","strokeWidth":3},"data":{"values":[{"r":"0.726***"}]},"layer":[{"mark":{"type":"text","style":"corrlab","text":"Corr:"},"encoding":{"y":{"datum":0.778,"type":"quantitative","scale":{"domain":[0,1]},"axis":null}}},{"mark":{"type":"text","style":"corrnum","clip":true},"encoding":{"text":{"field":"r","type":"nominal"},"y":{"datum":-0.01,"type":"quantitative","scale":{"domain":[0,1]},"axis":null}}}]},
{"width":273,"height":205,"view":{"fill":"#FFFFFF","stroke":"#DEDEDE","strokeWidth":3},"data":{"values":[{"r":"0.601***"}]},"layer":[{"mark":{"type":"text","style":"corrlab","text":"Corr:"},"encoding":{"y":{"datum":0.778,"type":"quantitative","scale":{"domain":[0,1]},"axis":null}}},{"mark":{"type":"text","style":"corrnum","clip":true},"encoding":{"text":{"field":"r","type":"nominal"},"y":{"datum":-0.01,"type":"quantitative","scale":{"domain":[0,1]},"axis":null}}}]},
{"width":273,"height":205,"view":{"fill":"#FFFFFF","stroke":"#DEDEDE","strokeWidth":3},"data":{"values":[{"r":"0.379***"}]},"layer":[{"mark":{"type":"text","style":"corrlab","text":"Corr:"},"encoding":{"y":{"datum":0.778,"type":"quantitative","scale":{"domain":[0,1]},"axis":null}}},{"mark":{"type":"text","style":"corrnum","clip":true},"encoding":{"text":{"field":"r","type":"nominal"},"y":{"datum":-0.01,"type":"quantitative","scale":{"domain":[0,1]},"axis":null}}}]},
{"width":273,"height":205,"view":{"fill":"#FFFFFF","stroke":"#DEDEDE","strokeWidth":3},"data":{"values":[{"r":"0.457***"}]},"layer":[{"mark":{"type":"text","style":"corrlab","text":"Corr:"},"encoding":{"y":{"datum":0.778,"type":"quantitative","scale":{"domain":[0,1]},"axis":null}}},{"mark":{"type":"text","style":"corrnum","clip":true},"encoding":{"text":{"field":"r","type":"nominal"},"y":{"datum":-0.01,"type":"quantitative","scale":{"domain":[0,1]},"axis":null}}}]},
{"width":273,"height":205,"view":{"fill":"#FFFFFF","stroke":"#DEDEDE","strokeWidth":3},"data":{"values":[{"r":"0.504***"}]},"layer":[{"mark":{"type":"text","style":"corrlab","text":"Corr:"},"encoding":{"y":{"datum":0.778,"type":"quantitative","scale":{"domain":[0,1]},"axis":null}}},{"mark":{"type":"text","style":"corrnum","clip":true},"encoding":{"text":{"field":"r","type":"nominal"},"y":{"datum":-0.01,"type":"quantitative","scale":{"domain":[0,1]},"axis":null}}}]},
{"width":273,"height":205,"view":{"fill":"#FFFFFF","stroke":"#DEDEDE","strokeWidth":3},"data":{"values":[{"r":"0.463***"}]},"layer":[{"mark":{"type":"text","style":"corrlab","text":"Corr:"},"encoding":{"y":{"datum":0.778,"type":"quantitative","scale":{"domain":[0,1]},"axis":null}}},{"mark":{"type":"text","style":"corrnum","clip":true},"encoding":{"text":{"field":"r","type":"nominal"},"y":{"datum":-0.01,"type":"quantitative","scale":{"domain":[0,1]},"axis":null}}}]},
{"width":273,"height":205,"view":{"fill":"#FFFFFF","stroke":"#DEDEDE","strokeWidth":3},"data":{"values":[{"r":"0.404***"}]},"layer":[{"mark":{"type":"text","style":"corrlab","text":"Corr:"},"encoding":{"y":{"datum":0.778,"type":"quantitative","scale":{"domain":[0,1]},"axis":null}}},{"mark":{"type":"text","style":"corrnum","clip":true},"encoding":{"text":{"field":"r","type":"nominal"},"y":{"datum":-0.01,"type":"quantitative","scale":{"domain":[0,1]},"axis":null}}}]},
{"width":273,"height":205,"view":{"fill":"#FFFFFF","stroke":"#DEDEDE","strokeWidth":3},"data":{"values":[{"r":"0.663***"}]},"layer":[{"mark":{"type":"text","style":"corrlab","text":"Corr:"},"encoding":{"y":{"datum":0.778,"type":"quantitative","scale":{"domain":[0,1]},"axis":null}}},{"mark":{"type":"text","style":"corrnum","clip":true},"encoding":{"text":{"field":"r","type":"nominal"},"y":{"datum":-0.01,"type":"quantitative","scale":{"domain":[0,1]},"axis":null}}}]},
{"width":354,"height":205,"view":{"fill":"#FFFFFF","stroke":null},"data":{"values":[{"r":"0.584***","h":"SP"}]},"layer":[{"mark":{"type":"rect","color":"#FFFFFF","stroke":"#DEDEDE","strokeWidth":3},"encoding":{"x":{"datum":0,"type":"quantitative","scale":{"domain":[0,1.2967]},"axis":null},"x2":{"datum":1}}},{"mark":{"type":"rect"},"encoding":{"x":{"datum":1,"type":"quantitative","scale":{"domain":[0,1.2967]},"axis":null},"x2":{"datum":1.2967}}},{"mark":{"type":"text","style":"rstrip","color":"#1A1A1A"},"encoding":{"text":{"field":"h","type":"nominal"},"x":{"datum":1.1484,"type":"quantitative","scale":{"domain":[0,1.2967]},"axis":null}}},{"mark":{"type":"text","style":"corrlab","text":"Corr:"},"encoding":{"x":{"datum":0.5,"type":"quantitative","scale":{"domain":[0,1.2967]},"axis":null},"y":{"datum":0.778,"type":"quantitative","scale":{"domain":[0,1]},"axis":null}}},{"mark":{"type":"text","style":"corrnum","clip":true},"encoding":{"text":{"field":"r","type":"nominal"},"x":{"datum":0.5,"type":"quantitative","scale":{"domain":[0,1.2967]},"axis":null},"y":{"datum":-0.01,"type":"quantitative","scale":{"domain":[0,1]},"axis":null}}}]},

{"width":273,"height":205,"data":{"name":"obs"},"mark":{"type":"point","clip":true},"encoding":{"x":{"field":"RP","type":"quantitative","title":null,"scale":{"domain":[0.79,4.87],"nice":false}},"y":{"field":"PRK","type":"quantitative","title":null,"scale":{"domain":[0.85,5.15],"nice":false},"axis":{"labels":true,"ticks":true,"format":"d","labelExpr":"datum.value % 1 ? '' : datum.label","tickOpacity":{"condition":{"test":"datum.value % 1","value":0},"value":1}}}}},
{"width":273,"height":205,"data":{"name":"obs"},"mark":{"type":"point","clip":true},"encoding":{"x":{"field":"SP","type":"quantitative","title":null,"scale":{"domain":[0.8,5.15],"nice":false}},"y":{"field":"PRK","type":"quantitative","title":null,"scale":{"domain":[0.85,5.15],"nice":false}}}},
{"width":273,"height":205,"data":{"name":"dens"},"transform":[{"filter":"datum.v=='PRK'"}],"mark":"line","encoding":{"x":{"field":"x","type":"quantitative","title":null,"scale":{"domain":[0.85,5.15],"nice":false}},"y":{"field":"d","type":"quantitative","title":null,"scale":{"domain":[0,1],"nice":false},"axis":{"tickCount":10}}}},
{"width":273,"height":205,"view":{"fill":"#FFFFFF","stroke":"#DEDEDE","strokeWidth":3},"data":{"values":[{"r":"0.556***"}]},"layer":[{"mark":{"type":"text","style":"corrlab","text":"Corr:"},"encoding":{"y":{"datum":0.778,"type":"quantitative","scale":{"domain":[0,1]},"axis":null}}},{"mark":{"type":"text","style":"corrnum","clip":true},"encoding":{"text":{"field":"r","type":"nominal"},"y":{"datum":-0.01,"type":"quantitative","scale":{"domain":[0,1]},"axis":null}}}]},
{"width":273,"height":205,"view":{"fill":"#FFFFFF","stroke":"#DEDEDE","strokeWidth":3},"data":{"values":[{"r":"0.432***"}]},"layer":[{"mark":{"type":"text","style":"corrlab","text":"Corr:"},"encoding":{"y":{"datum":0.778,"type":"quantitative","scale":{"domain":[0,1]},"axis":null}}},{"mark":{"type":"text","style":"corrnum","clip":true},"encoding":{"text":{"field":"r","type":"nominal"},"y":{"datum":-0.01,"type":"quantitative","scale":{"domain":[0,1]},"axis":null}}}]},
{"width":273,"height":205,"view":{"fill":"#FFFFFF","stroke":"#DEDEDE","strokeWidth":3},"data":{"values":[{"r":"0.354***"}]},"layer":[{"mark":{"type":"text","style":"corrlab","text":"Corr:"},"encoding":{"y":{"datum":0.778,"type":"quantitative","scale":{"domain":[0,1]},"axis":null}}},{"mark":{"type":"text","style":"corrnum","clip":true},"encoding":{"text":{"field":"r","type":"nominal"},"y":{"datum":-0.01,"type":"quantitative","scale":{"domain":[0,1]},"axis":null}}}]},
{"width":273,"height":205,"view":{"fill":"#FFFFFF","stroke":"#DEDEDE","strokeWidth":3},"data":{"values":[{"r":"0.518***"}]},"layer":[{"mark":{"type":"text","style":"corrlab","text":"Corr:"},"encoding":{"y":{"datum":0.778,"type":"quantitative","scale":{"domain":[0,1]},"axis":null}}},{"mark":{"type":"text","style":"corrnum","clip":true},"encoding":{"text":{"field":"r","type":"nominal"},"y":{"datum":-0.01,"type":"quantitative","scale":{"domain":[0,1]},"axis":null}}}]},
{"width":273,"height":205,"view":{"fill":"#FFFFFF","stroke":"#DEDEDE","strokeWidth":3},"data":{"values":[{"r":"0.391***"}]},"layer":[{"mark":{"type":"text","style":"corrlab","text":"Corr:"},"encoding":{"y":{"datum":0.778,"type":"quantitative","scale":{"domain":[0,1]},"axis":null}}},{"mark":{"type":"text","style":"corrnum","clip":true},"encoding":{"text":{"field":"r","type":"nominal"},"y":{"datum":-0.01,"type":"quantitative","scale":{"domain":[0,1]},"axis":null}}}]},
{"width":273,"height":205,"view":{"fill":"#FFFFFF","stroke":"#DEDEDE","strokeWidth":3},"data":{"values":[{"r":"0.286***"}]},"layer":[{"mark":{"type":"text","style":"corrlab","text":"Corr:"},"encoding":{"y":{"datum":0.778,"type":"quantitative","scale":{"domain":[0,1]},"axis":null}}},{"mark":{"type":"text","style":"corrnum","clip":true},"encoding":{"text":{"field":"r","type":"nominal"},"y":{"datum":-0.01,"type":"quantitative","scale":{"domain":[0,1]},"axis":null}}}]},
{"width":273,"height":205,"view":{"fill":"#FFFFFF","stroke":"#DEDEDE","strokeWidth":3},"data":{"values":[{"r":"0.640***"}]},"layer":[{"mark":{"type":"text","style":"corrlab","text":"Corr:"},"encoding":{"y":{"datum":0.778,"type":"quantitative","scale":{"domain":[0,1]},"axis":null}}},{"mark":{"type":"text","style":"corrnum","clip":true},"encoding":{"text":{"field":"r","type":"nominal"},"y":{"datum":-0.01,"type":"quantitative","scale":{"domain":[0,1]},"axis":null}}}]},
{"width":354,"height":205,"view":{"fill":"#FFFFFF","stroke":null},"data":{"values":[{"r":"0.496***","h":"PRK"}]},"layer":[{"mark":{"type":"rect","color":"#FFFFFF","stroke":"#DEDEDE","strokeWidth":3},"encoding":{"x":{"datum":0,"type":"quantitative","scale":{"domain":[0,1.2967]},"axis":null},"x2":{"datum":1}}},{"mark":{"type":"rect"},"encoding":{"x":{"datum":1,"type":"quantitative","scale":{"domain":[0,1.2967]},"axis":null},"x2":{"datum":1.2967}}},{"mark":{"type":"text","style":"rstrip","color":"#1A1A1A"},"encoding":{"text":{"field":"h","type":"nominal"},"x":{"datum":1.1484,"type":"quantitative","scale":{"domain":[0,1.2967]},"axis":null}}},{"mark":{"type":"text","style":"corrlab","text":"Corr:"},"encoding":{"x":{"datum":0.5,"type":"quantitative","scale":{"domain":[0,1.2967]},"axis":null},"y":{"datum":0.778,"type":"quantitative","scale":{"domain":[0,1]},"axis":null}}},{"mark":{"type":"text","style":"corrnum","clip":true},"encoding":{"text":{"field":"r","type":"nominal"},"x":{"datum":0.5,"type":"quantitative","scale":{"domain":[0,1.2967]},"axis":null},"y":{"datum":-0.01,"type":"quantitative","scale":{"domain":[0,1]},"axis":null}}}]},

{"width":273,"height":205,"data":{"name":"obs"},"mark":{"type":"point","clip":true},"encoding":{"x":{"field":"RP","type":"quantitative","title":null,"scale":{"domain":[0.79,4.87],"nice":false}},"y":{"field":"MP","type":"quantitative","title":null,"scale":{"domain":[0.83,5.2],"nice":false},"axis":{"labels":true,"ticks":true,"format":"d","labelExpr":"datum.value % 1 ? '' : datum.label","tickOpacity":{"condition":{"test":"datum.value % 1","value":0},"value":1}}}}},
{"width":273,"height":205,"data":{"name":"obs"},"mark":{"type":"point","clip":true},"encoding":{"x":{"field":"SP","type":"quantitative","title":null,"scale":{"domain":[0.8,5.15],"nice":false}},"y":{"field":"MP","type":"quantitative","title":null,"scale":{"domain":[0.83,5.2],"nice":false}}}},
{"width":273,"height":205,"data":{"name":"obs"},"mark":{"type":"point","clip":true},"encoding":{"x":{"field":"PRK","type":"quantitative","title":null,"scale":{"domain":[0.85,5.15],"nice":false}},"y":{"field":"MP","type":"quantitative","title":null,"scale":{"domain":[0.83,5.2],"nice":false}}}},
{"width":273,"height":205,"data":{"name":"dens"},"transform":[{"filter":"datum.v=='MP'"}],"mark":"line","encoding":{"x":{"field":"x","type":"quantitative","title":null,"scale":{"domain":[0.83,5.2],"nice":false}},"y":{"field":"d","type":"quantitative","title":null,"scale":{"domain":[0,1],"nice":false},"axis":{"tickCount":10}}}},
{"width":273,"height":205,"view":{"fill":"#FFFFFF","stroke":"#DEDEDE","strokeWidth":3},"data":{"values":[{"r":"0.324***"}]},"layer":[{"mark":{"type":"text","style":"corrlab","text":"Corr:"},"encoding":{"y":{"datum":0.778,"type":"quantitative","scale":{"domain":[0,1]},"axis":null}}},{"mark":{"type":"text","style":"corrnum","clip":true},"encoding":{"text":{"field":"r","type":"nominal"},"y":{"datum":-0.01,"type":"quantitative","scale":{"domain":[0,1]},"axis":null}}}]},
{"width":273,"height":205,"view":{"fill":"#FFFFFF","stroke":"#DEDEDE","strokeWidth":3},"data":{"values":[{"r":"0.287***"}]},"layer":[{"mark":{"type":"text","style":"corrlab","text":"Corr:"},"encoding":{"y":{"datum":0.778,"type":"quantitative","scale":{"domain":[0,1]},"axis":null}}},{"mark":{"type":"text","style":"corrnum","clip":true},"encoding":{"text":{"field":"r","type":"nominal"},"y":{"datum":-0.01,"type":"quantitative","scale":{"domain":[0,1]},"axis":null}}}]},
{"width":273,"height":205,"view":{"fill":"#FFFFFF","stroke":"#DEDEDE","strokeWidth":3},"data":{"values":[{"r":"0.381***"}]},"layer":[{"mark":{"type":"text","style":"corrlab","text":"Corr:"},"encoding":{"y":{"datum":0.778,"type":"quantitative","scale":{"domain":[0,1]},"axis":null}}},{"mark":{"type":"text","style":"corrnum","clip":true},"encoding":{"text":{"field":"r","type":"nominal"},"y":{"datum":-0.01,"type":"quantitative","scale":{"domain":[0,1]},"axis":null}}}]},
{"width":273,"height":205,"view":{"fill":"#FFFFFF","stroke":"#DEDEDE","strokeWidth":3},"data":{"values":[{"r":"0.281***"}]},"layer":[{"mark":{"type":"text","style":"corrlab","text":"Corr:"},"encoding":{"y":{"datum":0.778,"type":"quantitative","scale":{"domain":[0,1]},"axis":null}}},{"mark":{"type":"text","style":"corrnum","clip":true},"encoding":{"text":{"field":"r","type":"nominal"},"y":{"datum":-0.01,"type":"quantitative","scale":{"domain":[0,1]},"axis":null}}}]},
{"width":273,"height":205,"view":{"fill":"#FFFFFF","stroke":"#DEDEDE","strokeWidth":3},"data":{"values":[{"r":"0.393***"}]},"layer":[{"mark":{"type":"text","style":"corrlab","text":"Corr:"},"encoding":{"y":{"datum":0.778,"type":"quantitative","scale":{"domain":[0,1]},"axis":null}}},{"mark":{"type":"text","style":"corrnum","clip":true},"encoding":{"text":{"field":"r","type":"nominal"},"y":{"datum":-0.01,"type":"quantitative","scale":{"domain":[0,1]},"axis":null}}}]},
{"width":273,"height":205,"view":{"fill":"#FFFFFF","stroke":"#DEDEDE","strokeWidth":3},"data":{"values":[{"r":"0.551***"}]},"layer":[{"mark":{"type":"text","style":"corrlab","text":"Corr:"},"encoding":{"y":{"datum":0.778,"type":"quantitative","scale":{"domain":[0,1]},"axis":null}}},{"mark":{"type":"text","style":"corrnum","clip":true},"encoding":{"text":{"field":"r","type":"nominal"},"y":{"datum":-0.01,"type":"quantitative","scale":{"domain":[0,1]},"axis":null}}}]},
{"width":354,"height":205,"view":{"fill":"#FFFFFF","stroke":null},"data":{"values":[{"r":"0.455***","h":"MP"}]},"layer":[{"mark":{"type":"rect","color":"#FFFFFF","stroke":"#DEDEDE","strokeWidth":3},"encoding":{"x":{"datum":0,"type":"quantitative","scale":{"domain":[0,1.2967]},"axis":null},"x2":{"datum":1}}},{"mark":{"type":"rect"},"encoding":{"x":{"datum":1,"type":"quantitative","scale":{"domain":[0,1.2967]},"axis":null},"x2":{"datum":1.2967}}},{"mark":{"type":"text","style":"rstrip","color":"#1A1A1A"},"encoding":{"text":{"field":"h","type":"nominal"},"x":{"datum":1.1484,"type":"quantitative","scale":{"domain":[0,1.2967]},"axis":null}}},{"mark":{"type":"text","style":"corrlab","text":"Corr:"},"encoding":{"x":{"datum":0.5,"type":"quantitative","scale":{"domain":[0,1.2967]},"axis":null},"y":{"datum":0.778,"type":"quantitative","scale":{"domain":[0,1]},"axis":null}}},{"mark":{"type":"text","style":"corrnum","clip":true},"encoding":{"text":{"field":"r","type":"nominal"},"x":{"datum":0.5,"type":"quantitative","scale":{"domain":[0,1.2967]},"axis":null},"y":{"datum":-0.01,"type":"quantitative","scale":{"domain":[0,1]},"axis":null}}}]},

{"width":273,"height":205,"data":{"name":"obs"},"mark":{"type":"point","clip":true},"encoding":{"x":{"field":"RP","type":"quantitative","title":null,"scale":{"domain":[0.79,4.87],"nice":false}},"y":{"field":"NRF","type":"quantitative","title":null,"scale":{"domain":[0.78,5.21],"nice":false},"axis":{"labels":true,"ticks":true,"format":"d","labelExpr":"datum.value % 1 ? '' : datum.label","tickOpacity":{"condition":{"test":"datum.value % 1","value":0},"value":1}}}}},
{"width":273,"height":205,"data":{"name":"obs"},"mark":{"type":"point","clip":true},"encoding":{"x":{"field":"SP","type":"quantitative","title":null,"scale":{"domain":[0.8,5.15],"nice":false}},"y":{"field":"NRF","type":"quantitative","title":null,"scale":{"domain":[0.78,5.21],"nice":false}}}},
{"width":273,"height":205,"data":{"name":"obs"},"mark":{"type":"point","clip":true},"encoding":{"x":{"field":"PRK","type":"quantitative","title":null,"scale":{"domain":[0.85,5.15],"nice":false}},"y":{"field":"NRF","type":"quantitative","title":null,"scale":{"domain":[0.78,5.21],"nice":false}}}},
{"width":273,"height":205,"data":{"name":"obs"},"mark":{"type":"point","clip":true},"encoding":{"x":{"field":"MP","type":"quantitative","title":null,"scale":{"domain":[0.83,5.2],"nice":false}},"y":{"field":"NRF","type":"quantitative","title":null,"scale":{"domain":[0.78,5.21],"nice":false}}}},
{"width":273,"height":205,"data":{"name":"dens"},"transform":[{"filter":"datum.v=='NRF'"}],"mark":"line","encoding":{"x":{"field":"x","type":"quantitative","title":null,"scale":{"domain":[0.78,5.21],"nice":false}},"y":{"field":"d","type":"quantitative","title":null,"scale":{"domain":[0,1],"nice":false},"axis":{"tickCount":10}}}},
{"width":273,"height":205,"view":{"fill":"#FFFFFF","stroke":"#DEDEDE","strokeWidth":3},"data":{"values":[{"r":"0.062"}]},"layer":[{"mark":{"type":"text","style":"corrlab","text":"Corr:"},"encoding":{"y":{"datum":0.778,"type":"quantitative","scale":{"domain":[0,1]},"axis":null}}},{"mark":{"type":"text","style":"corrnum","clip":true},"encoding":{"text":{"field":"r","type":"nominal"},"y":{"datum":-0.01,"type":"quantitative","scale":{"domain":[0,1]},"axis":null}}}]},
{"width":273,"height":205,"view":{"fill":"#FFFFFF","stroke":"#DEDEDE","strokeWidth":3},"data":{"values":[{"r":"0.115"}]},"layer":[{"mark":{"type":"text","style":"corrlab","text":"Corr:"},"encoding":{"y":{"datum":0.778,"type":"quantitative","scale":{"domain":[0,1]},"axis":null}}},{"mark":{"type":"text","style":"corrnum","clip":true},"encoding":{"text":{"field":"r","type":"nominal"},"y":{"datum":-0.01,"type":"quantitative","scale":{"domain":[0,1]},"axis":null}}}]},
{"width":273,"height":205,"view":{"fill":"#FFFFFF","stroke":"#DEDEDE","strokeWidth":3},"data":{"values":[{"r":"0.297***"}]},"layer":[{"mark":{"type":"text","style":"corrlab","text":"Corr:"},"encoding":{"y":{"datum":0.778,"type":"quantitative","scale":{"domain":[0,1]},"axis":null}}},{"mark":{"type":"text","style":"corrnum","clip":true},"encoding":{"text":{"field":"r","type":"nominal"},"y":{"datum":-0.01,"type":"quantitative","scale":{"domain":[0,1]},"axis":null}}}]},
{"width":273,"height":205,"view":{"fill":"#FFFFFF","stroke":"#DEDEDE","strokeWidth":3},"data":{"values":[{"r":"0.122"}]},"layer":[{"mark":{"type":"text","style":"corrlab","text":"Corr:"},"encoding":{"y":{"datum":0.778,"type":"quantitative","scale":{"domain":[0,1]},"axis":null}}},{"mark":{"type":"text","style":"corrnum","clip":true},"encoding":{"text":{"field":"r","type":"nominal"},"y":{"datum":-0.01,"type":"quantitative","scale":{"domain":[0,1]},"axis":null}}}]},
{"width":273,"height":205,"view":{"fill":"#FFFFFF","stroke":"#DEDEDE","strokeWidth":3},"data":{"values":[{"r":"0.321***"}]},"layer":[{"mark":{"type":"text","style":"corrlab","text":"Corr:"},"encoding":{"y":{"datum":0.778,"type":"quantitative","scale":{"domain":[0,1]},"axis":null}}},{"mark":{"type":"text","style":"corrnum","clip":true},"encoding":{"text":{"field":"r","type":"nominal"},"y":{"datum":-0.01,"type":"quantitative","scale":{"domain":[0,1]},"axis":null}}}]},
{"width":354,"height":205,"view":{"fill":"#FFFFFF","stroke":null},"data":{"values":[{"r":"0.232**","h":"NRF"}]},"layer":[{"mark":{"type":"rect","color":"#FFFFFF","stroke":"#DEDEDE","strokeWidth":3},"encoding":{"x":{"datum":0,"type":"quantitative","scale":{"domain":[0,1.2967]},"axis":null},"x2":{"datum":1}}},{"mark":{"type":"rect"},"encoding":{"x":{"datum":1,"type":"quantitative","scale":{"domain":[0,1.2967]},"axis":null},"x2":{"datum":1.2967}}},{"mark":{"type":"text","style":"rstrip","color":"#1A1A1A"},"encoding":{"text":{"field":"h","type":"nominal"},"x":{"datum":1.1484,"type":"quantitative","scale":{"domain":[0,1.2967]},"axis":null}}},{"mark":{"type":"text","style":"corrlab","text":"Corr:"},"encoding":{"x":{"datum":0.5,"type":"quantitative","scale":{"domain":[0,1.2967]},"axis":null},"y":{"datum":0.778,"type":"quantitative","scale":{"domain":[0,1]},"axis":null}}},{"mark":{"type":"text","style":"corrnum","clip":true},"encoding":{"text":{"field":"r","type":"nominal"},"x":{"datum":0.5,"type":"quantitative","scale":{"domain":[0,1.2967]},"axis":null},"y":{"datum":-0.01,"type":"quantitative","scale":{"domain":[0,1]},"axis":null}}}]},

{"width":273,"height":205,"data":{"name":"obs"},"mark":{"type":"point","clip":true},"encoding":{"x":{"field":"RP","type":"quantitative","title":null,"scale":{"domain":[0.79,4.87],"nice":false}},"y":{"field":"MM","type":"quantitative","title":null,"scale":{"domain":[0.82,4.19],"nice":false},"axis":{"labels":true,"ticks":true,"format":"d","labelExpr":"datum.value % 1 ? '' : datum.label","tickOpacity":{"condition":{"test":"datum.value % 1","value":0},"value":1}}}}},
{"width":273,"height":205,"data":{"name":"obs"},"mark":{"type":"point","clip":true},"encoding":{"x":{"field":"SP","type":"quantitative","title":null,"scale":{"domain":[0.8,5.15],"nice":false}},"y":{"field":"MM","type":"quantitative","title":null,"scale":{"domain":[0.82,4.19],"nice":false}}}},
{"width":273,"height":205,"data":{"name":"obs"},"mark":{"type":"point","clip":true},"encoding":{"x":{"field":"PRK","type":"quantitative","title":null,"scale":{"domain":[0.85,5.15],"nice":false}},"y":{"field":"MM","type":"quantitative","title":null,"scale":{"domain":[0.82,4.19],"nice":false}}}},
{"width":273,"height":205,"data":{"name":"obs"},"mark":{"type":"point","clip":true},"encoding":{"x":{"field":"MP","type":"quantitative","title":null,"scale":{"domain":[0.83,5.2],"nice":false}},"y":{"field":"MM","type":"quantitative","title":null,"scale":{"domain":[0.82,4.19],"nice":false}}}},
{"width":273,"height":205,"data":{"name":"obs"},"mark":{"type":"point","clip":true},"encoding":{"x":{"field":"NRF","type":"quantitative","title":null,"scale":{"domain":[0.78,5.21],"nice":false}},"y":{"field":"MM","type":"quantitative","title":null,"scale":{"domain":[0.82,4.19],"nice":false}}}},
{"width":273,"height":205,"data":{"name":"dens"},"transform":[{"filter":"datum.v=='MM'"}],"mark":"line","encoding":{"x":{"field":"x","type":"quantitative","title":null,"scale":{"domain":[0.82,4.19],"nice":false}},"y":{"field":"d","type":"quantitative","title":null,"scale":{"domain":[0,1],"nice":false},"axis":{"tickCount":10}}}},
{"width":273,"height":205,"view":{"fill":"#FFFFFF","stroke":"#DEDEDE","strokeWidth":3},"data":{"values":[{"r":"0.576***"}]},"layer":[{"mark":{"type":"text","style":"corrlab","text":"Corr:"},"encoding":{"y":{"datum":0.778,"type":"quantitative","scale":{"domain":[0,1]},"axis":null}}},{"mark":{"type":"text","style":"corrnum","clip":true},"encoding":{"text":{"field":"r","type":"nominal"},"y":{"datum":-0.01,"type":"quantitative","scale":{"domain":[0,1]},"axis":null}}}]},
{"width":273,"height":205,"view":{"fill":"#FFFFFF","stroke":"#DEDEDE","strokeWidth":3},"data":{"values":[{"r":"0.311***"}]},"layer":[{"mark":{"type":"text","style":"corrlab","text":"Corr:"},"encoding":{"y":{"datum":0.778,"type":"quantitative","scale":{"domain":[0,1]},"axis":null}}},{"mark":{"type":"text","style":"corrnum","clip":true},"encoding":{"text":{"field":"r","type":"nominal"},"y":{"datum":-0.01,"type":"quantitative","scale":{"domain":[0,1]},"axis":null}}}]},
{"width":273,"height":205,"view":{"fill":"#FFFFFF","stroke":"#DEDEDE","strokeWidth":3},"data":{"values":[{"r":"0.320***"}]},"layer":[{"mark":{"type":"text","style":"corrlab","text":"Corr:"},"encoding":{"y":{"datum":0.778,"type":"quantitative","scale":{"domain":[0,1]},"axis":null}}},{"mark":{"type":"text","style":"corrnum","clip":true},"encoding":{"text":{"field":"r","type":"nominal"},"y":{"datum":-0.01,"type":"quantitative","scale":{"domain":[0,1]},"axis":null}}}]},
{"width":273,"height":205,"view":{"fill":"#FFFFFF","stroke":"#DEDEDE","strokeWidth":3},"data":{"values":[{"r":"0.437***"}]},"layer":[{"mark":{"type":"text","style":"corrlab","text":"Corr:"},"encoding":{"y":{"datum":0.778,"type":"quantitative","scale":{"domain":[0,1]},"axis":null}}},{"mark":{"type":"text","style":"corrnum","clip":true},"encoding":{"text":{"field":"r","type":"nominal"},"y":{"datum":-0.01,"type":"quantitative","scale":{"domain":[0,1]},"axis":null}}}]},
{"width":354,"height":205,"view":{"fill":"#FFFFFF","stroke":null},"data":{"values":[{"r":"0.620***","h":"MM"}]},"layer":[{"mark":{"type":"rect","color":"#FFFFFF","stroke":"#DEDEDE","strokeWidth":3},"encoding":{"x":{"datum":0,"type":"quantitative","scale":{"domain":[0,1.2967]},"axis":null},"x2":{"datum":1}}},{"mark":{"type":"rect"},"encoding":{"x":{"datum":1,"type":"quantitative","scale":{"domain":[0,1.2967]},"axis":null},"x2":{"datum":1.2967}}},{"mark":{"type":"text","style":"rstrip","color":"#1A1A1A"},"encoding":{"text":{"field":"h","type":"nominal"},"x":{"datum":1.1484,"type":"quantitative","scale":{"domain":[0,1.2967]},"axis":null}}},{"mark":{"type":"text","style":"corrlab","text":"Corr:"},"encoding":{"x":{"datum":0.5,"type":"quantitative","scale":{"domain":[0,1.2967]},"axis":null},"y":{"datum":0.778,"type":"quantitative","scale":{"domain":[0,1]},"axis":null}}},{"mark":{"type":"text","style":"corrnum","clip":true},"encoding":{"text":{"field":"r","type":"nominal"},"x":{"datum":0.5,"type":"quantitative","scale":{"domain":[0,1.2967]},"axis":null},"y":{"datum":-0.01,"type":"quantitative","scale":{"domain":[0,1]},"axis":null}}}]},

{"width":273,"height":205,"data":{"name":"obs"},"mark":{"type":"point","clip":true},"encoding":{"x":{"field":"RP","type":"quantitative","title":null,"scale":{"domain":[0.79,4.87],"nice":false}},"y":{"field":"Com","type":"quantitative","title":null,"scale":{"domain":[0.9,3.6],"nice":false},"axis":{"labels":true,"ticks":true,"format":".1f"}}}},
{"width":273,"height":205,"data":{"name":"obs"},"mark":{"type":"point","clip":true},"encoding":{"x":{"field":"SP","type":"quantitative","title":null,"scale":{"domain":[0.8,5.15],"nice":false}},"y":{"field":"Com","type":"quantitative","title":null,"scale":{"domain":[0.9,3.6],"nice":false}}}},
{"width":273,"height":205,"data":{"name":"obs"},"mark":{"type":"point","clip":true},"encoding":{"x":{"field":"PRK","type":"quantitative","title":null,"scale":{"domain":[0.85,5.15],"nice":false}},"y":{"field":"Com","type":"quantitative","title":null,"scale":{"domain":[0.9,3.6],"nice":false}}}},
{"width":273,"height":205,"data":{"name":"obs"},"mark":{"type":"point","clip":true},"encoding":{"x":{"field":"MP","type":"quantitative","title":null,"scale":{"domain":[0.83,5.2],"nice":false}},"y":{"field":"Com","type":"quantitative","title":null,"scale":{"domain":[0.9,3.6],"nice":false}}}},
{"width":273,"height":205,"data":{"name":"obs"},"mark":{"type":"point","clip":true},"encoding":{"x":{"field":"NRF","type":"quantitative","title":null,"scale":{"domain":[0.78,5.21],"nice":false}},"y":{"field":"Com","type":"quantitative","title":null,"scale":{"domain":[0.9,3.6],"nice":false}}}},
{"width":273,"height":205,"data":{"name":"obs"},"mark":{"type":"point","clip":true},"encoding":{"x":{"field":"MM","type":"quantitative","title":null,"scale":{"domain":[0.82,4.19],"nice":false}},"y":{"field":"Com","type":"quantitative","title":null,"scale":{"domain":[0.9,3.6],"nice":false}}}},
{"width":273,"height":205,"data":{"name":"dens"},"transform":[{"filter":"datum.v=='Com'"}],"mark":"line","encoding":{"x":{"field":"x","type":"quantitative","title":null,"scale":{"domain":[0.9,3.6],"nice":false}},"y":{"field":"d","type":"quantitative","title":null,"scale":{"domain":[0,1],"nice":false},"axis":{"tickCount":10}}}},
{"width":273,"height":205,"view":{"fill":"#FFFFFF","stroke":"#DEDEDE","strokeWidth":3},"data":{"values":[{"r":"0.417***"}]},"layer":[{"mark":{"type":"text","style":"corrlab","text":"Corr:"},"encoding":{"y":{"datum":0.778,"type":"quantitative","scale":{"domain":[0,1]},"axis":null}}},{"mark":{"type":"text","style":"corrnum","clip":true},"encoding":{"text":{"field":"r","type":"nominal"},"y":{"datum":-0.01,"type":"quantitative","scale":{"domain":[0,1]},"axis":null}}}]},
{"width":273,"height":205,"view":{"fill":"#FFFFFF","stroke":"#DEDEDE","strokeWidth":3},"data":{"values":[{"r":"0.438***"}]},"layer":[{"mark":{"type":"text","style":"corrlab","text":"Corr:"},"encoding":{"y":{"datum":0.778,"type":"quantitative","scale":{"domain":[0,1]},"axis":null}}},{"mark":{"type":"text","style":"corrnum","clip":true},"encoding":{"text":{"field":"r","type":"nominal"},"y":{"datum":-0.01,"type":"quantitative","scale":{"domain":[0,1]},"axis":null}}}]},
{"width":273,"height":205,"view":{"fill":"#FFFFFF","stroke":"#DEDEDE","strokeWidth":3},"data":{"values":[{"r":"0.647***"}]},"layer":[{"mark":{"type":"text","style":"corrlab","text":"Corr:"},"encoding":{"y":{"datum":0.778,"type":"quantitative","scale":{"domain":[0,1]},"axis":null}}},{"mark":{"type":"text","style":"corrnum","clip":true},"encoding":{"text":{"field":"r","type":"nominal"},"y":{"datum":-0.01,"type":"quantitative","scale":{"domain":[0,1]},"axis":null}}}]},
{"width":354,"height":205,"view":{"fill":"#FFFFFF","stroke":null},"data":{"values":[{"r":"0.614***","h":"Com"}]},"layer":[{"mark":{"type":"rect","color":"#FFFFFF","stroke":"#DEDEDE","strokeWidth":3},"encoding":{"x":{"datum":0,"type":"quantitative","scale":{"domain":[0,1.2967]},"axis":null},"x2":{"datum":1}}},{"mark":{"type":"rect"},"encoding":{"x":{"datum":1,"type":"quantitative","scale":{"domain":[0,1.2967]},"axis":null},"x2":{"datum":1.2967}}},{"mark":{"type":"text","style":"rstrip","color":"#1A1A1A"},"encoding":{"text":{"field":"h","type":"nominal"},"x":{"datum":1.1484,"type":"quantitative","scale":{"domain":[0,1.2967]},"axis":null}}},{"mark":{"type":"text","style":"corrlab","text":"Corr:"},"encoding":{"x":{"datum":0.5,"type":"quantitative","scale":{"domain":[0,1.2967]},"axis":null},"y":{"datum":0.778,"type":"quantitative","scale":{"domain":[0,1]},"axis":null}}},{"mark":{"type":"text","style":"corrnum","clip":true},"encoding":{"text":{"field":"r","type":"nominal"},"x":{"datum":0.5,"type":"quantitative","scale":{"domain":[0,1.2967]},"axis":null},"y":{"datum":-0.01,"type":"quantitative","scale":{"domain":[0,1]},"axis":null}}}]},

{"width":273,"height":205,"data":{"name":"obs"},"mark":{"type":"point","clip":true},"encoding":{"x":{"field":"RP","type":"quantitative","title":null,"scale":{"domain":[0.79,4.87],"nice":false}},"y":{"field":"MA","type":"quantitative","title":null,"scale":{"domain":[0.9,3.94],"nice":false},"axis":{"labels":true,"ticks":true,"format":"d","labelExpr":"datum.value % 1 ? '' : datum.label","tickOpacity":{"condition":{"test":"datum.value % 1","value":0},"value":1}}}}},
{"width":273,"height":205,"data":{"name":"obs"},"mark":{"type":"point","clip":true},"encoding":{"x":{"field":"SP","type":"quantitative","title":null,"scale":{"domain":[0.8,5.15],"nice":false}},"y":{"field":"MA","type":"quantitative","title":null,"scale":{"domain":[0.9,3.94],"nice":false}}}},
{"width":273,"height":205,"data":{"name":"obs"},"mark":{"type":"point","clip":true},"encoding":{"x":{"field":"PRK","type":"quantitative","title":null,"scale":{"domain":[0.85,5.15],"nice":false}},"y":{"field":"MA","type":"quantitative","title":null,"scale":{"domain":[0.9,3.94],"nice":false}}}},
{"width":273,"height":205,"data":{"name":"obs"},"mark":{"type":"point","clip":true},"encoding":{"x":{"field":"MP","type":"quantitative","title":null,"scale":{"domain":[0.83,5.2],"nice":false}},"y":{"field":"MA","type":"quantitative","title":null,"scale":{"domain":[0.9,3.94],"nice":false}}}},
{"width":273,"height":205,"data":{"name":"obs"},"mark":{"type":"point","clip":true},"encoding":{"x":{"field":"NRF","type":"quantitative","title":null,"scale":{"domain":[0.78,5.21],"nice":false}},"y":{"field":"MA","type":"quantitative","title":null,"scale":{"domain":[0.9,3.94],"nice":false}}}},
{"width":273,"height":205,"data":{"name":"obs"},"mark":{"type":"point","clip":true},"encoding":{"x":{"field":"MM","type":"quantitative","title":null,"scale":{"domain":[0.82,4.19],"nice":false}},"y":{"field":"MA","type":"quantitative","title":null,"scale":{"domain":[0.9,3.94],"nice":false}}}},
{"width":273,"height":205,"data":{"name":"obs"},"mark":{"type":"point","clip":true},"encoding":{"x":{"field":"Com","type":"quantitative","title":null,"scale":{"domain":[0.9,3.6],"nice":false}},"y":{"field":"MA","type":"quantitative","title":null,"scale":{"domain":[0.9,3.94],"nice":false}}}},
{"width":273,"height":205,"data":{"name":"dens"},"transform":[{"filter":"datum.v=='MA'"}],"mark":"line","encoding":{"x":{"field":"x","type":"quantitative","title":null,"scale":{"domain":[0.9,3.94],"nice":false}},"y":{"field":"d","type":"quantitative","title":null,"scale":{"domain":[0,1],"nice":false},"axis":{"tickCount":10}}}},
{"width":273,"height":205,"view":{"fill":"#FFFFFF","stroke":"#DEDEDE","strokeWidth":3},"data":{"values":[{"r":"0.367***"}]},"layer":[{"mark":{"type":"text","style":"corrlab","text":"Corr:"},"encoding":{"y":{"datum":0.778,"type":"quantitative","scale":{"domain":[0,1]},"axis":null}}},{"mark":{"type":"text","style":"corrnum","clip":true},"encoding":{"text":{"field":"r","type":"nominal"},"y":{"datum":-0.01,"type":"quantitative","scale":{"domain":[0,1]},"axis":null}}}]},
{"width":273,"height":205,"view":{"fill":"#FFFFFF","stroke":"#DEDEDE","strokeWidth":3},"data":{"values":[{"r":"0.331***"}]},"layer":[{"mark":{"type":"text","style":"corrlab","text":"Corr:"},"encoding":{"y":{"datum":0.778,"type":"quantitative","scale":{"domain":[0,1]},"axis":null}}},{"mark":{"type":"text","style":"corrnum","clip":true},"encoding":{"text":{"field":"r","type":"nominal"},"y":{"datum":-0.01,"type":"quantitative","scale":{"domain":[0,1]},"axis":null}}}]},
{"width":354,"height":205,"view":{"fill":"#FFFFFF","stroke":null},"data":{"values":[{"r":"0.302***","h":"MA"}]},"layer":[{"mark":{"type":"rect","color":"#FFFFFF","stroke":"#DEDEDE","strokeWidth":3},"encoding":{"x":{"datum":0,"type":"quantitative","scale":{"domain":[0,1.2967]},"axis":null},"x2":{"datum":1}}},{"mark":{"type":"rect"},"encoding":{"x":{"datum":1,"type":"quantitative","scale":{"domain":[0,1.2967]},"axis":null},"x2":{"datum":1.2967}}},{"mark":{"type":"text","style":"rstrip","color":"#1A1A1A"},"encoding":{"text":{"field":"h","type":"nominal"},"x":{"datum":1.1484,"type":"quantitative","scale":{"domain":[0,1.2967]},"axis":null}}},{"mark":{"type":"text","style":"corrlab","text":"Corr:"},"encoding":{"x":{"datum":0.5,"type":"quantitative","scale":{"domain":[0,1.2967]},"axis":null},"y":{"datum":0.778,"type":"quantitative","scale":{"domain":[0,1]},"axis":null}}},{"mark":{"type":"text","style":"corrnum","clip":true},"encoding":{"text":{"field":"r","type":"nominal"},"x":{"datum":0.5,"type":"quantitative","scale":{"domain":[0,1.2967]},"axis":null},"y":{"datum":-0.01,"type":"quantitative","scale":{"domain":[0,1]},"axis":null}}}]},

{"width":273,"height":205,"data":{"name":"obs"},"mark":{"type":"point","clip":true},"encoding":{"x":{"field":"RP","type":"quantitative","title":null,"scale":{"domain":[0.79,4.87],"nice":false}},"y":{"field":"MD","type":"quantitative","title":null,"scale":{"domain":[0.85,4.17],"nice":false},"axis":{"labels":true,"ticks":true,"format":"d","labelExpr":"datum.value % 1 ? '' : datum.label","tickOpacity":{"condition":{"test":"datum.value % 1","value":0},"value":1}}}}},
{"width":273,"height":205,"data":{"name":"obs"},"mark":{"type":"point","clip":true},"encoding":{"x":{"field":"SP","type":"quantitative","title":null,"scale":{"domain":[0.8,5.15],"nice":false}},"y":{"field":"MD","type":"quantitative","title":null,"scale":{"domain":[0.85,4.17],"nice":false}}}},
{"width":273,"height":205,"data":{"name":"obs"},"mark":{"type":"point","clip":true},"encoding":{"x":{"field":"PRK","type":"quantitative","title":null,"scale":{"domain":[0.85,5.15],"nice":false}},"y":{"field":"MD","type":"quantitative","title":null,"scale":{"domain":[0.85,4.17],"nice":false}}}},
{"width":273,"height":205,"data":{"name":"obs"},"mark":{"type":"point","clip":true},"encoding":{"x":{"field":"MP","type":"quantitative","title":null,"scale":{"domain":[0.83,5.2],"nice":false}},"y":{"field":"MD","type":"quantitative","title":null,"scale":{"domain":[0.85,4.17],"nice":false}}}},
{"width":273,"height":205,"data":{"name":"obs"},"mark":{"type":"point","clip":true},"encoding":{"x":{"field":"NRF","type":"quantitative","title":null,"scale":{"domain":[0.78,5.21],"nice":false}},"y":{"field":"MD","type":"quantitative","title":null,"scale":{"domain":[0.85,4.17],"nice":false}}}},
{"width":273,"height":205,"data":{"name":"obs"},"mark":{"type":"point","clip":true},"encoding":{"x":{"field":"MM","type":"quantitative","title":null,"scale":{"domain":[0.82,4.19],"nice":false}},"y":{"field":"MD","type":"quantitative","title":null,"scale":{"domain":[0.85,4.17],"nice":false}}}},
{"width":273,"height":205,"data":{"name":"obs"},"mark":{"type":"point","clip":true},"encoding":{"x":{"field":"Com","type":"quantitative","title":null,"scale":{"domain":[0.9,3.6],"nice":false}},"y":{"field":"MD","type":"quantitative","title":null,"scale":{"domain":[0.85,4.17],"nice":false}}}},
{"width":273,"height":205,"data":{"name":"obs"},"mark":{"type":"point","clip":true},"encoding":{"x":{"field":"MA","type":"quantitative","title":null,"scale":{"domain":[0.9,3.94],"nice":false}},"y":{"field":"MD","type":"quantitative","title":null,"scale":{"domain":[0.85,4.17],"nice":false}}}},
{"width":273,"height":205,"data":{"name":"dens"},"transform":[{"filter":"datum.v=='MD'"}],"mark":"line","encoding":{"x":{"field":"x","type":"quantitative","title":null,"scale":{"domain":[0.85,4.17],"nice":false}},"y":{"field":"d","type":"quantitative","title":null,"scale":{"domain":[0,1],"nice":false},"axis":{"tickCount":10}}}},
{"width":273,"height":205,"view":{"fill":"#FFFFFF","stroke":"#DEDEDE","strokeWidth":3},"data":{"values":[{"r":"0.355***"}]},"layer":[{"mark":{"type":"text","style":"corrlab","text":"Corr:"},"encoding":{"y":{"datum":0.778,"type":"quantitative","scale":{"domain":[0,1]},"axis":null}}},{"mark":{"type":"text","style":"corrnum","clip":true},"encoding":{"text":{"field":"r","type":"nominal"},"y":{"datum":-0.01,"type":"quantitative","scale":{"domain":[0,1]},"axis":null}}}]},
{"width":354,"height":205,"view":{"fill":"#FFFFFF","stroke":null},"data":{"values":[{"r":"0.336***","h":"MD"}]},"layer":[{"mark":{"type":"rect","color":"#FFFFFF","stroke":"#DEDEDE","strokeWidth":3},"encoding":{"x":{"datum":0,"type":"quantitative","scale":{"domain":[0,1.2967]},"axis":null},"x2":{"datum":1}}},{"mark":{"type":"rect"},"encoding":{"x":{"datum":1,"type":"quantitative","scale":{"domain":[0,1.2967]},"axis":null},"x2":{"datum":1.2967}}},{"mark":{"type":"text","style":"rstrip","color":"#1A1A1A"},"encoding":{"text":{"field":"h","type":"nominal"},"x":{"datum":1.1484,"type":"quantitative","scale":{"domain":[0,1.2967]},"axis":null}}},{"mark":{"type":"text","style":"corrlab","text":"Corr:"},"encoding":{"x":{"datum":0.5,"type":"quantitative","scale":{"domain":[0,1.2967]},"axis":null},"y":{"datum":0.778,"type":"quantitative","scale":{"domain":[0,1]},"axis":null}}},{"mark":{"type":"text","style":"corrnum","clip":true},"encoding":{"text":{"field":"r","type":"nominal"},"x":{"datum":0.5,"type":"quantitative","scale":{"domain":[0,1.2967]},"axis":null},"y":{"datum":-0.01,"type":"quantitative","scale":{"domain":[0,1]},"axis":null}}}]},

{"width":273,"height":205,"data":{"name":"obs"},"mark":{"type":"point","clip":true},"encoding":{"x":{"field":"RP","type":"quantitative","title":null,"scale":{"domain":[0.79,4.87],"nice":false}},"y":{"field":"IMS","type":"quantitative","title":null,"scale":{"domain":[0.92,3.8],"nice":false},"axis":{"labels":true,"ticks":true,"format":"d","labelExpr":"datum.value % 1 ? '' : datum.label","tickOpacity":{"condition":{"test":"datum.value % 1","value":0},"value":1}}}}},
{"width":273,"height":205,"data":{"name":"obs"},"mark":{"type":"point","clip":true},"encoding":{"x":{"field":"SP","type":"quantitative","title":null,"scale":{"domain":[0.8,5.15],"nice":false}},"y":{"field":"IMS","type":"quantitative","title":null,"scale":{"domain":[0.92,3.8],"nice":false}}}},
{"width":273,"height":205,"data":{"name":"obs"},"mark":{"type":"point","clip":true},"encoding":{"x":{"field":"PRK","type":"quantitative","title":null,"scale":{"domain":[0.85,5.15],"nice":false}},"y":{"field":"IMS","type":"quantitative","title":null,"scale":{"domain":[0.92,3.8],"nice":false}}}},
{"width":273,"height":205,"data":{"name":"obs"},"mark":{"type":"point","clip":true},"encoding":{"x":{"field":"MP","type":"quantitative","title":null,"scale":{"domain":[0.83,5.2],"nice":false}},"y":{"field":"IMS","type":"quantitative","title":null,"scale":{"domain":[0.92,3.8],"nice":false}}}},
{"width":273,"height":205,"data":{"name":"obs"},"mark":{"type":"point","clip":true},"encoding":{"x":{"field":"NRF","type":"quantitative","title":null,"scale":{"domain":[0.78,5.21],"nice":false}},"y":{"field":"IMS","type":"quantitative","title":null,"scale":{"domain":[0.92,3.8],"nice":false}}}},
{"width":273,"height":205,"data":{"name":"obs"},"mark":{"type":"point","clip":true},"encoding":{"x":{"field":"MM","type":"quantitative","title":null,"scale":{"domain":[0.82,4.19],"nice":false}},"y":{"field":"IMS","type":"quantitative","title":null,"scale":{"domain":[0.92,3.8],"nice":false}}}},
{"width":273,"height":205,"data":{"name":"obs"},"mark":{"type":"point","clip":true},"encoding":{"x":{"field":"Com","type":"quantitative","title":null,"scale":{"domain":[0.9,3.6],"nice":false}},"y":{"field":"IMS","type":"quantitative","title":null,"scale":{"domain":[0.92,3.8],"nice":false}}}},
{"width":273,"height":205,"data":{"name":"obs"},"mark":{"type":"point","clip":true},"encoding":{"x":{"field":"MA","type":"quantitative","title":null,"scale":{"domain":[0.9,3.94],"nice":false}},"y":{"field":"IMS","type":"quantitative","title":null,"scale":{"domain":[0.92,3.8],"nice":false}}}},
{"width":273,"height":205,"data":{"name":"obs"},"mark":{"type":"point","clip":true},"encoding":{"x":{"field":"MD","type":"quantitative","title":null,"scale":{"domain":[0.85,4.17],"nice":false}},"y":{"field":"IMS","type":"quantitative","title":null,"scale":{"domain":[0.92,3.8],"nice":false}}}},
{"width":273,"height":205,"data":{"name":"dens"},"transform":[{"filter":"datum.v=='IMS'"}],"mark":"line","encoding":{"x":{"field":"x","type":"quantitative","title":null,"scale":{"domain":[0.92,3.8],"nice":false}},"y":{"field":"d","type":"quantitative","title":null,"scale":{"domain":[0,1],"nice":false},"axis":{"tickCount":10}}}},
{"width":354,"height":205,"view":{"fill":"#FFFFFF","stroke":null},"data":{"values":[{"r":"0.568***","h":"IMS"}]},"layer":[{"mark":{"type":"rect","color":"#FFFFFF","stroke":"#DEDEDE","strokeWidth":3},"encoding":{"x":{"datum":0,"type":"quantitative","scale":{"domain":[0,1.2967]},"axis":null},"x2":{"datum":1}}},{"mark":{"type":"rect"},"encoding":{"x":{"datum":1,"type":"quantitative","scale":{"domain":[0,1.2967]},"axis":null},"x2":{"datum":1.2967}}},{"mark":{"type":"text","style":"rstrip","color":"#1A1A1A"},"encoding":{"text":{"field":"h","type":"nominal"},"x":{"datum":1.1484,"type":"quantitative","scale":{"domain":[0,1.2967]},"axis":null}}},{"mark":{"type":"text","style":"corrlab","text":"Corr:"},"encoding":{"x":{"datum":0.5,"type":"quantitative","scale":{"domain":[0,1.2967]},"axis":null},"y":{"datum":0.778,"type":"quantitative","scale":{"domain":[0,1]},"axis":null}}},{"mark":{"type":"text","style":"corrnum","clip":true},"encoding":{"text":{"field":"r","type":"nominal"},"x":{"datum":0.5,"type":"quantitative","scale":{"domain":[0,1.2967]},"axis":null},"y":{"datum":-0.01,"type":"quantitative","scale":{"domain":[0,1]},"axis":null}}}]},

{"width":273,"height":205,"data":{"name":"obs"},"mark":{"type":"point","clip":true},"encoding":{"x":{"field":"RP","type":"quantitative","title":null,"scale":{"domain":[0.79,4.87],"nice":false},"axis":{"labels":true,"ticks":true,"format":"d","labelExpr":"datum.value % 1 ? '' : datum.label","tickOpacity":{"condition":{"test":"datum.value % 1","value":0},"value":1}}},"y":{"field":"AMS","type":"quantitative","title":null,"scale":{"domain":[0.84,4.14],"nice":false},"axis":{"labels":true,"ticks":true,"format":"d","labelExpr":"datum.value % 1 ? '' : datum.label","tickOpacity":{"condition":{"test":"datum.value % 1","value":0},"value":1}}}}},
{"width":273,"height":205,"data":{"name":"obs"},"mark":{"type":"point","clip":true},"encoding":{"x":{"field":"SP","type":"quantitative","title":null,"scale":{"domain":[0.8,5.15],"nice":false},"axis":{"labels":true,"ticks":true,"format":"d","labelExpr":"datum.value % 1 ? '' : datum.label","tickOpacity":{"condition":{"test":"datum.value % 1","value":0},"value":1}}},"y":{"field":"AMS","type":"quantitative","title":null,"scale":{"domain":[0.84,4.14],"nice":false}}}},
{"width":273,"height":205,"data":{"name":"obs"},"mark":{"type":"point","clip":true},"encoding":{"x":{"field":"PRK","type":"quantitative","title":null,"scale":{"domain":[0.85,5.15],"nice":false},"axis":{"labels":true,"ticks":true,"format":"d","labelExpr":"datum.value % 1 ? '' : datum.label","tickOpacity":{"condition":{"test":"datum.value % 1","value":0},"value":1}}},"y":{"field":"AMS","type":"quantitative","title":null,"scale":{"domain":[0.84,4.14],"nice":false}}}},
{"width":273,"height":205,"data":{"name":"obs"},"mark":{"type":"point","clip":true},"encoding":{"x":{"field":"MP","type":"quantitative","title":null,"scale":{"domain":[0.83,5.2],"nice":false},"axis":{"labels":true,"ticks":true,"format":"d","labelExpr":"datum.value % 1 ? '' : datum.label","tickOpacity":{"condition":{"test":"datum.value % 1","value":0},"value":1}}},"y":{"field":"AMS","type":"quantitative","title":null,"scale":{"domain":[0.84,4.14],"nice":false}}}},
{"width":273,"height":205,"data":{"name":"obs"},"mark":{"type":"point","clip":true},"encoding":{"x":{"field":"NRF","type":"quantitative","title":null,"scale":{"domain":[0.78,5.21],"nice":false},"axis":{"labels":true,"ticks":true,"format":"d","labelExpr":"datum.value % 1 ? '' : datum.label","tickOpacity":{"condition":{"test":"datum.value % 1","value":0},"value":1}}},"y":{"field":"AMS","type":"quantitative","title":null,"scale":{"domain":[0.84,4.14],"nice":false}}}},
{"width":273,"height":205,"data":{"name":"obs"},"mark":{"type":"point","clip":true},"encoding":{"x":{"field":"MM","type":"quantitative","title":null,"scale":{"domain":[0.82,4.19],"nice":false},"axis":{"labels":true,"ticks":true,"format":"d","labelExpr":"datum.value % 1 ? '' : datum.label","tickOpacity":{"condition":{"test":"datum.value % 1","value":0},"value":1}}},"y":{"field":"AMS","type":"quantitative","title":null,"scale":{"domain":[0.84,4.14],"nice":false}}}},
{"width":273,"height":205,"data":{"name":"obs"},"mark":{"type":"point","clip":true},"encoding":{"x":{"field":"Com","type":"quantitative","title":null,"scale":{"domain":[0.9,3.6],"nice":false},"axis":{"labels":true,"ticks":true,"format":".1f"}},"y":{"field":"AMS","type":"quantitative","title":null,"scale":{"domain":[0.84,4.14],"nice":false}}}},
{"width":273,"height":205,"data":{"name":"obs"},"mark":{"type":"point","clip":true},"encoding":{"x":{"field":"MA","type":"quantitative","title":null,"scale":{"domain":[0.9,3.94],"nice":false},"axis":{"labels":true,"ticks":true,"format":"d","labelExpr":"datum.value % 1 ? '' : datum.label","tickOpacity":{"condition":{"test":"datum.value % 1","value":0},"value":1}}},"y":{"field":"AMS","type":"quantitative","title":null,"scale":{"domain":[0.84,4.14],"nice":false}}}},
{"width":273,"height":205,"data":{"name":"obs"},"mark":{"type":"point","clip":true},"encoding":{"x":{"field":"MD","type":"quantitative","title":null,"scale":{"domain":[0.85,4.17],"nice":false},"axis":{"labels":true,"ticks":true,"format":"d","labelExpr":"datum.value % 1 ? '' : datum.label","tickOpacity":{"condition":{"test":"datum.value % 1","value":0},"value":1}}},"y":{"field":"AMS","type":"quantitative","title":null,"scale":{"domain":[0.84,4.14],"nice":false}}}},
{"width":273,"height":205,"data":{"name":"obs"},"mark":{"type":"point","clip":true},"encoding":{"x":{"field":"IMS","type":"quantitative","title":null,"scale":{"domain":[0.92,3.8],"nice":false},"axis":{"labels":true,"ticks":true,"format":"d","labelExpr":"datum.value % 1 ? '' : datum.label","tickOpacity":{"condition":{"test":"datum.value % 1","value":0},"value":1}}},"y":{"field":"AMS","type":"quantitative","title":null,"scale":{"domain":[0.84,4.14],"nice":false}}}},
{"width":354,"height":205,"layer":[
{"data":{"name":"dens"},"transform":[{"filter":"datum.v=='AMS'"}],"mark":"line","encoding":{"x":{"field":"x","type":"quantitative","title":null,"scale":{"domain":[0.84,5.119],"nice":false},"axis":{"values":[1,1.5,2,2.5,3,3.5,4],"labels":true,"ticks":true,"format":"d","labelExpr":"datum.value % 1 ? '' : datum.label","tickOpacity":{"condition":{"test":"datum.value % 1","value":0},"value":1}}},"y":{"field":"d","type":"quantitative","title":null,"scale":{"domain":[0,1],"nice":false},"axis":{"tickCount":10}}}},
{"data":{"values":[{"h":"AMS"}]},"mark":{"type":"rect"},"encoding":{"x":{"datum":4.14,"type":"quantitative","scale":{"domain":[0.84,5.119],"nice":false}},"x2":{"datum":5.119}}},
{"data":{"values":[{"h":"AMS"}]},"mark":{"type":"text","style":"rstrip","color":"#1A1A1A"},"encoding":{"text":{"field":"h","type":"nominal"},"x":{"datum":4.6295,"type":"quantitative","scale":{"domain":[0.84,5.119],"nice":false}}}}
]}
]
}
